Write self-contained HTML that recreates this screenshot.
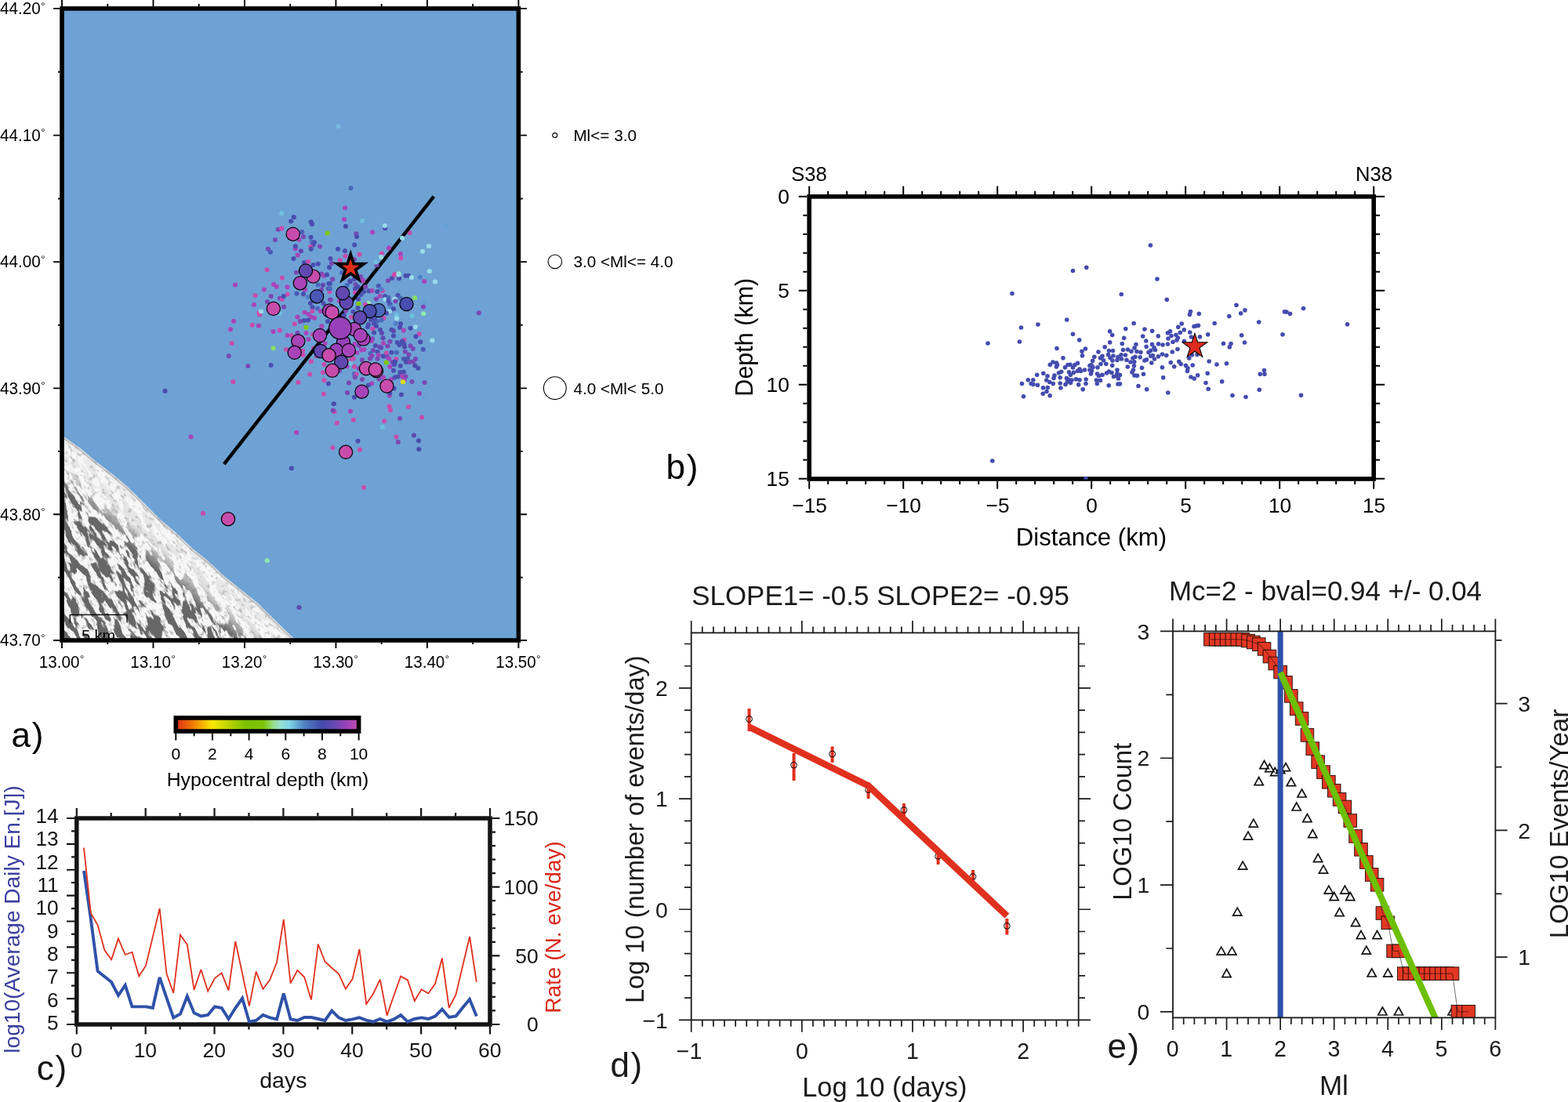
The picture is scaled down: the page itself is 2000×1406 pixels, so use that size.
<!DOCTYPE html>
<html lang="en"><head><meta charset="utf-8"><title>Seismic sequence figure</title>
<style>
html,body{margin:0;padding:0;background:#fff;}
body{width:2000px;height:1406px;overflow:hidden;}
svg{display:block;font-family:"Liberation Sans", "DejaVu Sans", sans-serif;}
</style></head><body>
<svg width="2000" height="1406" viewBox="0 0 2000 1406">
<rect width="2000" height="1406" fill="#fff"/>
<g id="panel-a">
<clipPath id="clipa"><rect x="79.0" y="10.9" width="582.40" height="806.10"/></clipPath>
<rect x="79.0" y="10.9" width="582.40" height="806.10" fill="#6ea2d4"/>
<defs>
<filter id="relief" x="0" y="0" width="100%" height="100%" filterUnits="objectBoundingBox" color-interpolation-filters="sRGB">
<feTurbulence type="fractalNoise" baseFrequency="0.04 0.12" numOctaves="4" seed="7" result="n"/>
<feColorMatrix in="n" type="matrix" values="0 0 0 0 0.40  0 0 0 0 0.40  0 0 0 0 0.40  12 0 0 0 -5.7"/>
</filter>
<filter id="speck" x="0" y="0" width="100%" height="100%" filterUnits="objectBoundingBox" color-interpolation-filters="sRGB">
<feTurbulence type="fractalNoise" baseFrequency="0.16 0.3" numOctaves="2" seed="4" result="n"/>
<feColorMatrix in="n" type="matrix" values="0 0 0 0 0.62  0 0 0 0 0.62  0 0 0 0 0.62  5 0 0 0 -2.7"/>
</filter>
<linearGradient id="fade" gradientUnits="userSpaceOnUse" x1="228" y1="677" x2="160" y2="755">
<stop offset="0" stop-color="#fff" stop-opacity="0.05"/><stop offset="0.3" stop-color="#fff" stop-opacity="0.14"/><stop offset="0.55" stop-color="#fff" stop-opacity="1"/><stop offset="1" stop-color="#fff" stop-opacity="1"/>
</linearGradient>
<mask id="landmask" maskUnits="userSpaceOnUse" x="0" y="500" width="500" height="400"><rect x="0" y="500" width="500" height="400" fill="url(#fade)"/></mask>
</defs>
<g clip-path="url(#clipa)">
<polygon points="79,555.5 81.7,557.5 101.3,571 121.9,588.5 142.5,604 163.2,621.5 183.8,642.1 204.4,662.8 225,680.3 245.7,699.9 266.3,716.4 286.9,736 307.6,752.5 328.2,769 348.8,789.6 373.6,813.4 378,818 79,818" fill="#f7f7f7"/>
<clipPath id="clipland"><polygon points="79,555.5 81.7,557.5 101.3,571 121.9,588.5 142.5,604 163.2,621.5 183.8,642.1 204.4,662.8 225,680.3 245.7,699.9 266.3,716.4 286.9,736 307.6,752.5 328.2,769 348.8,789.6 373.6,813.4 378,818 79,818"/></clipPath>
<g clip-path="url(#clipland)">
<g transform="rotate(52 200 700)"><rect x="-150" y="350" width="700" height="700" fill="#000" filter="url(#speck)" opacity="0.55"/></g>
<g mask="url(#landmask)"><g transform="rotate(60 200 700)"><rect x="-150" y="350" width="700" height="700" fill="#000" filter="url(#relief)"/></g></g>
</g>
<polyline points="79,555.5 81.7,557.5 101.3,571 121.9,588.5 142.5,604 163.2,621.5 183.8,642.1 204.4,662.8 225,680.3 245.7,699.9 266.3,716.4 286.9,736 307.6,752.5 328.2,769 348.8,789.6 373.6,813.4 378,818" fill="none" stroke="#9a9a9a" stroke-width="2.2" stroke-opacity="0.55" transform="translate(-1.2,1.4)"/>
</g>
<g clip-path="url(#clipa)">
<circle cx="447.5" cy="240" r="3.05" fill="#4a68bc"/><circle cx="440" cy="265.2" r="3.05" fill="#a844b8"/><circle cx="359.2" cy="272.2" r="3.05" fill="#70c0e0"/><circle cx="374.8" cy="277" r="3.05" fill="#4a4db0"/><circle cx="371.2" cy="282.2" r="3.05" fill="#4a4db0"/><circle cx="439" cy="280" r="3.05" fill="#a844b8"/><circle cx="462" cy="281.7" r="3.05" fill="#70c0e0"/><circle cx="396.8" cy="283.2" r="3.05" fill="#4a4db0"/><circle cx="398" cy="286" r="3.05" fill="#4a4db0"/><circle cx="441" cy="288.7" r="3.05" fill="#4a4db0"/><circle cx="354.8" cy="292.8" r="3.05" fill="#7a48b4"/><circle cx="359.2" cy="291.4" r="3.05" fill="#c84cac"/><circle cx="385.2" cy="296" r="3.05" fill="#4a58b4"/><circle cx="417.8" cy="297.5" r="3.05" fill="#80c800"/><circle cx="454.5" cy="298.3" r="3.05" fill="#7a48b4"/><circle cx="455" cy="302" r="3.05" fill="#4a4db0"/><circle cx="475" cy="296.2" r="3.05" fill="#a844b8"/><circle cx="387" cy="302" r="3.05" fill="#7a48b4"/><circle cx="396.5" cy="302.7" r="3.05" fill="#4a4db0"/><circle cx="381.5" cy="305.8" r="3.05" fill="#a844b8"/><circle cx="351" cy="306" r="3.05" fill="#7a48b4"/><circle cx="398" cy="308.8" r="3.05" fill="#4a68bc"/><circle cx="401" cy="309.3" r="3.05" fill="#4a4db0"/><circle cx="399.5" cy="312.5" r="3.05" fill="#4a4db0"/><circle cx="452.2" cy="312.5" r="3.05" fill="#4a4db0"/><circle cx="376.8" cy="317.2" r="3.05" fill="#a844b8"/><circle cx="376.8" cy="314.2" r="3.05" fill="#4a4db0"/><circle cx="408" cy="314.5" r="3.05" fill="#7a48b4"/><circle cx="396.2" cy="315" r="3.05" fill="#c84cac"/><circle cx="396.8" cy="317.8" r="3.05" fill="#4a4db0"/><circle cx="402.5" cy="319.7" r="3.05" fill="#66a0d4"/><circle cx="342" cy="317.8" r="3.05" fill="#7a48b4"/><circle cx="345" cy="321.8" r="3.05" fill="#4a58b4"/><circle cx="384" cy="320.3" r="3.05" fill="#6048b0"/><circle cx="431" cy="317.8" r="3.05" fill="#4a4db0"/><circle cx="440" cy="320" r="3.05" fill="#4a4db0"/><circle cx="379.8" cy="325.5" r="3.05" fill="#a844b8"/><circle cx="458.5" cy="324.7" r="3.05" fill="#c84cac"/><circle cx="440.5" cy="326.8" r="3.05" fill="#c84cac"/><circle cx="374.5" cy="330" r="3.05" fill="#4a4db0"/><circle cx="421.5" cy="330" r="3.05" fill="#4a4db0"/><circle cx="433.8" cy="332.2" r="3.05" fill="#c84cac"/><circle cx="388" cy="335" r="3.05" fill="#4a4db0"/><circle cx="393.2" cy="333.7" r="3.05" fill="#c84cac"/><circle cx="423" cy="336" r="3.05" fill="#7a48b4"/><circle cx="405.8" cy="336.8" r="3.05" fill="#4a4db0"/><circle cx="399.5" cy="338" r="3.05" fill="#4a4db0"/><circle cx="420" cy="341.3" r="3.05" fill="#4a4db0"/><circle cx="340.5" cy="344.3" r="3.05" fill="#c84cac"/><circle cx="378" cy="347.5" r="3.05" fill="#7a48b4"/><circle cx="410" cy="349.5" r="3.05" fill="#7a48b4"/><circle cx="413" cy="351.8" r="3.05" fill="#a844b8"/><circle cx="417" cy="350.5" r="3.05" fill="#4a4db0"/><circle cx="360" cy="354.5" r="3.05" fill="#c84cac"/><circle cx="424.3" cy="356.2" r="3.05" fill="#7a48b4"/><circle cx="452" cy="331" r="3.05" fill="#7a48b4"/><circle cx="436" cy="348" r="3.05" fill="#4a68bc"/><circle cx="479.5" cy="334.5" r="3.05" fill="#70c0e0"/><circle cx="480.5" cy="338.2" r="3.05" fill="#7a48b4"/><circle cx="460" cy="353" r="3.05" fill="#7a48b4"/><circle cx="463" cy="357.5" r="3.05" fill="#a844b8"/><circle cx="446.5" cy="358.5" r="3.05" fill="#4a4db0"/><circle cx="452" cy="356" r="3.05" fill="#4a4db0"/><circle cx="491.2" cy="291.2" r="3.05" fill="#4a4db0"/><circle cx="490.8" cy="288" r="3.05" fill="#98dce8"/><circle cx="522.5" cy="297" r="3.05" fill="#c84cac"/><circle cx="513" cy="303.8" r="3.05" fill="#98dce8"/><circle cx="568.7" cy="288" r="3.05" fill="#66a0d4"/><circle cx="497.5" cy="319" r="3.05" fill="#70c0e0"/><circle cx="496.2" cy="316.5" r="3.05" fill="#a844b8"/><circle cx="547" cy="314" r="3.05" fill="#98dce8"/><circle cx="539" cy="320.8" r="3.05" fill="#98dce8"/><circle cx="486.8" cy="323.5" r="3.05" fill="#c84cac"/><circle cx="486.2" cy="328" r="3.05" fill="#98dce8"/><circle cx="510.8" cy="324" r="3.05" fill="#a844b8"/><circle cx="511.2" cy="329.3" r="3.05" fill="#c84cac"/><circle cx="547.8" cy="346" r="3.05" fill="#98dce8"/><circle cx="503.5" cy="349.7" r="3.05" fill="#c84cac"/><circle cx="508.5" cy="349.3" r="3.05" fill="#90e8b0"/><circle cx="517.5" cy="351.7" r="3.05" fill="#4a4db0"/><circle cx="521.2" cy="351.7" r="3.05" fill="#4a4db0"/><circle cx="525" cy="354" r="3.05" fill="#98dce8"/><circle cx="500" cy="355" r="3.05" fill="#4a4db0"/><circle cx="509" cy="355.2" r="3.05" fill="#4a4db0"/><circle cx="536" cy="353.7" r="3.05" fill="#5080c8"/><circle cx="495" cy="358" r="3.05" fill="#7a48b4"/><circle cx="541.2" cy="359" r="3.05" fill="#a844b8"/><circle cx="555" cy="359.5" r="3.05" fill="#98dce8"/><circle cx="300" cy="363.5" r="3.05" fill="#a844b8"/><circle cx="349" cy="362.8" r="3.05" fill="#a844b8"/><circle cx="352.8" cy="365.8" r="3.05" fill="#a844b8"/><circle cx="337" cy="369.5" r="3.05" fill="#a844b8"/><circle cx="366.5" cy="366.3" r="3.05" fill="#a844b8"/><circle cx="325.5" cy="377" r="3.05" fill="#c84cac"/><circle cx="345.7" cy="378" r="3.05" fill="#7a48b4"/><circle cx="366.5" cy="375.5" r="3.05" fill="#c84cac"/><circle cx="357" cy="380.5" r="3.05" fill="#7a48b4"/><circle cx="359.8" cy="381.8" r="3.05" fill="#c84cac"/><circle cx="361.8" cy="378" r="3.05" fill="#4a4db0"/><circle cx="341" cy="385" r="3.05" fill="#7a48b4"/><circle cx="324" cy="388.7" r="3.05" fill="#a844b8"/><circle cx="362" cy="391.5" r="3.05" fill="#7a48b4"/><circle cx="330.5" cy="399" r="3.05" fill="#c84cac"/><circle cx="331.2" cy="401.5" r="3.05" fill="#c84cac"/><circle cx="333" cy="397.2" r="3.05" fill="#98dce8"/><circle cx="357" cy="400" r="3.05" fill="#70c0e0"/><circle cx="298" cy="409.7" r="3.05" fill="#a844b8"/><circle cx="321.8" cy="414.8" r="3.05" fill="#c84cac"/><circle cx="330" cy="415.8" r="3.05" fill="#a844b8"/><circle cx="294" cy="420.2" r="3.05" fill="#a844b8"/><circle cx="348.5" cy="423" r="3.05" fill="#a844b8"/><circle cx="356.8" cy="421.5" r="3.05" fill="#c84cac"/><circle cx="295.7" cy="438" r="3.05" fill="#c84cac"/><circle cx="348.5" cy="444.2" r="3.05" fill="#88e060"/><circle cx="291.8" cy="454.3" r="3.05" fill="#7a48b4"/><circle cx="316.3" cy="467" r="3.05" fill="#7a48b4"/><circle cx="345.7" cy="466" r="3.05" fill="#4a4db0"/><circle cx="297.3" cy="487" r="3.05" fill="#c84cac"/><circle cx="378.5" cy="374.5" r="3.05" fill="#4a58b4"/><circle cx="387" cy="375" r="3.05" fill="#4a4db0"/><circle cx="392.5" cy="379" r="3.05" fill="#5080c8"/><circle cx="405.5" cy="363.5" r="3.05" fill="#4a68bc"/><circle cx="412" cy="363.8" r="3.05" fill="#6048b0"/><circle cx="419.5" cy="361.8" r="3.05" fill="#4a4db0"/><circle cx="419" cy="368.3" r="3.05" fill="#4a58b4"/><circle cx="420.5" cy="372.2" r="3.05" fill="#c84cac"/><circle cx="389" cy="369.5" r="3.05" fill="#a844b8"/><circle cx="410" cy="369.5" r="3.05" fill="#7a48b4"/><circle cx="421" cy="382.5" r="3.05" fill="#6048b0"/><circle cx="396" cy="386.8" r="3.05" fill="#4a4db0"/><circle cx="412.5" cy="387" r="3.05" fill="#4a4db0"/><circle cx="398.5" cy="392" r="3.05" fill="#4a4db0"/><circle cx="405" cy="393.5" r="3.05" fill="#4a68bc"/><circle cx="388.5" cy="398.5" r="3.05" fill="#a844b8"/><circle cx="398.5" cy="397" r="3.05" fill="#c84cac"/><circle cx="393.5" cy="401" r="3.05" fill="#a844b8"/><circle cx="379.5" cy="404.5" r="3.05" fill="#a844b8"/><circle cx="397" cy="404.5" r="3.05" fill="#a844b8"/><circle cx="401.2" cy="405.7" r="3.05" fill="#a844b8"/><circle cx="387.8" cy="409" r="3.05" fill="#4a4db0"/><circle cx="393" cy="408.5" r="3.05" fill="#4a4db0"/><circle cx="383" cy="410" r="3.05" fill="#7a48b4"/><circle cx="375.8" cy="413.3" r="3.05" fill="#c84cac"/><circle cx="390.5" cy="417.7" r="3.05" fill="#80c800"/><circle cx="410.3" cy="416.2" r="3.05" fill="#a844b8"/><circle cx="418" cy="410" r="3.05" fill="#4a4db0"/><circle cx="379.5" cy="424.8" r="3.05" fill="#7a48b4"/><circle cx="390.5" cy="425" r="3.05" fill="#a844b8"/><circle cx="366.8" cy="428" r="3.05" fill="#a844b8"/><circle cx="371.7" cy="428" r="3.05" fill="#c84cac"/><circle cx="393.5" cy="433" r="3.05" fill="#a844b8"/><circle cx="399" cy="426.5" r="3.05" fill="#c84cac"/><circle cx="365" cy="446" r="3.05" fill="#c84cac"/><circle cx="386" cy="447.5" r="3.05" fill="#c84cac"/><circle cx="386.5" cy="453" r="3.05" fill="#c84cac"/><circle cx="414.5" cy="438" r="3.05" fill="#a844b8"/><circle cx="397" cy="461.2" r="3.05" fill="#c84cac"/><circle cx="413.5" cy="465" r="3.05" fill="#c84cac"/><circle cx="412" cy="475.2" r="3.05" fill="#c84cac"/><circle cx="395.2" cy="477.5" r="3.05" fill="#c84cac"/><circle cx="413.5" cy="485.2" r="3.05" fill="#c84cac"/><circle cx="380.5" cy="487.8" r="3.05" fill="#c84cac"/><circle cx="409" cy="397" r="3.05" fill="#a844b8"/><circle cx="419" cy="489.5" r="3.05" fill="#4a4db0"/><circle cx="400" cy="444.5" r="3.05" fill="#c84cac"/><circle cx="404" cy="454" r="3.05" fill="#a844b8"/><circle cx="433" cy="473" r="3.05" fill="#7a48b4"/><circle cx="503" cy="351" r="3.05" fill="#c84cac"/><circle cx="508.5" cy="350.5" r="3.05" fill="#98dce8"/><circle cx="446.5" cy="359.5" r="3.05" fill="#4a4db0"/><circle cx="463" cy="358.5" r="3.05" fill="#a844b8"/><circle cx="453.5" cy="362.8" r="3.05" fill="#7a48b4"/><circle cx="442.5" cy="364" r="3.05" fill="#4a68bc"/><circle cx="456.5" cy="366" r="3.05" fill="#4a4db0"/><circle cx="453" cy="368.5" r="3.05" fill="#4a4db0"/><circle cx="466" cy="366" r="3.05" fill="#7a48b4"/><circle cx="453" cy="373.2" r="3.05" fill="#c84cac"/><circle cx="464" cy="372.2" r="3.05" fill="#4a4db0"/><circle cx="460.5" cy="376" r="3.05" fill="#4a58b4"/><circle cx="470.5" cy="371.2" r="3.05" fill="#4a4db0"/><circle cx="474.5" cy="371" r="3.05" fill="#a844b8"/><circle cx="482.8" cy="364.7" r="3.05" fill="#4a58b4"/><circle cx="487.8" cy="371" r="3.05" fill="#c84cac"/><circle cx="486" cy="369" r="3.05" fill="#5080c8"/><circle cx="481.2" cy="372" r="3.05" fill="#4a4db0"/><circle cx="484.5" cy="377.8" r="3.05" fill="#a844b8"/><circle cx="479.8" cy="381.5" r="3.05" fill="#7a48b4"/><circle cx="491" cy="378" r="3.05" fill="#4a4db0"/><circle cx="491.5" cy="382" r="3.05" fill="#98dce8"/><circle cx="495.5" cy="379.5" r="3.05" fill="#4a68bc"/><circle cx="495.5" cy="384" r="3.05" fill="#4a4db0"/><circle cx="509.5" cy="371.5" r="3.05" fill="#66a0d4"/><circle cx="507.5" cy="376.8" r="3.05" fill="#4a4db0"/><circle cx="503.5" cy="381.5" r="3.05" fill="#98dce8"/><circle cx="504.5" cy="384.2" r="3.05" fill="#7a48b4"/><circle cx="511" cy="380.5" r="3.05" fill="#4a68bc"/><circle cx="529.2" cy="380" r="3.05" fill="#88e060"/><circle cx="541.5" cy="385" r="3.05" fill="#66a0d4"/><circle cx="540" cy="391.5" r="3.05" fill="#7a48b4"/><circle cx="540.2" cy="400.3" r="3.05" fill="#90e8b0"/><circle cx="610.8" cy="399.3" r="3.05" fill="#7a48b4"/><circle cx="457" cy="381.5" r="3.05" fill="#4a4db0"/><circle cx="457.5" cy="387.5" r="3.05" fill="#80c800"/><circle cx="470" cy="386.8" r="3.05" fill="#90e8b0"/><circle cx="466" cy="388.5" r="3.05" fill="#c84cac"/><circle cx="456.5" cy="393" r="3.05" fill="#4a4db0"/><circle cx="497.5" cy="388.5" r="3.05" fill="#4a4db0"/><circle cx="498.5" cy="391.5" r="3.05" fill="#5080c8"/><circle cx="502" cy="394" r="3.05" fill="#4a4db0"/><circle cx="496.8" cy="397.2" r="3.05" fill="#98dce8"/><circle cx="493" cy="399.5" r="3.05" fill="#4a4db0"/><circle cx="450.5" cy="397.8" r="3.05" fill="#4a4db0"/><circle cx="441" cy="396.5" r="3.05" fill="#7a48b4"/><circle cx="506" cy="402" r="3.05" fill="#70c0e0"/><circle cx="506" cy="406.2" r="3.05" fill="#98dce8"/><circle cx="525.5" cy="403" r="3.05" fill="#70c0e0"/><circle cx="489.5" cy="406" r="3.05" fill="#c84cac"/><circle cx="486.5" cy="408.5" r="3.05" fill="#4a68bc"/><circle cx="481" cy="410" r="3.05" fill="#4a68bc"/><circle cx="473" cy="408" r="3.05" fill="#4a4db0"/><circle cx="478" cy="407" r="3.05" fill="#4a4db0"/><circle cx="448" cy="404.8" r="3.05" fill="#c84cac"/><circle cx="438.5" cy="402.5" r="3.05" fill="#4a4db0"/><circle cx="504.5" cy="412.8" r="3.05" fill="#5080c8"/><circle cx="511" cy="413" r="3.05" fill="#4a4db0"/><circle cx="510" cy="417.8" r="3.05" fill="#4a4db0"/><circle cx="523.5" cy="418.8" r="3.05" fill="#4a4db0"/><circle cx="530" cy="417.2" r="3.05" fill="#98dce8"/><circle cx="534.5" cy="420.3" r="3.05" fill="#66a0d4"/><circle cx="514.8" cy="421.5" r="3.05" fill="#a844b8"/><circle cx="504" cy="419" r="3.05" fill="#66a0d4"/><circle cx="499.5" cy="420.8" r="3.05" fill="#4a4db0"/><circle cx="502" cy="422.2" r="3.05" fill="#6048b0"/><circle cx="475.5" cy="419.5" r="3.05" fill="#c84cac"/><circle cx="470" cy="414" r="3.05" fill="#4a4db0"/><circle cx="469" cy="417" r="3.05" fill="#4a4db0"/><circle cx="477" cy="413" r="3.05" fill="#4a4db0"/><circle cx="480" cy="416" r="3.05" fill="#4a4db0"/><circle cx="485" cy="420.8" r="3.05" fill="#4a4db0"/><circle cx="477" cy="424.5" r="3.05" fill="#4a4db0"/><circle cx="487" cy="425" r="3.05" fill="#6048b0"/><circle cx="502" cy="428.5" r="3.05" fill="#4a4db0"/><circle cx="508" cy="429" r="3.05" fill="#66a0d4"/><circle cx="534.7" cy="426.2" r="3.05" fill="#c84cac"/><circle cx="530.5" cy="429.3" r="3.05" fill="#4a4db0"/><circle cx="488.5" cy="431.2" r="3.05" fill="#6048b0"/><circle cx="475" cy="432.2" r="3.05" fill="#7a48b4"/><circle cx="474" cy="435" r="3.05" fill="#a844b8"/><circle cx="497.5" cy="435.7" r="3.05" fill="#7a48b4"/><circle cx="489" cy="437.7" r="3.05" fill="#a844b8"/><circle cx="515.5" cy="433.8" r="3.05" fill="#c84cac"/><circle cx="513" cy="435.5" r="3.05" fill="#4a4db0"/><circle cx="506.8" cy="437" r="3.05" fill="#4a4db0"/><circle cx="509.5" cy="440" r="3.05" fill="#4a4db0"/><circle cx="515.5" cy="439" r="3.05" fill="#4a4db0"/><circle cx="516" cy="442.5" r="3.05" fill="#4a4db0"/><circle cx="536.2" cy="436.2" r="3.05" fill="#4a4db0"/><circle cx="551.3" cy="434.2" r="3.05" fill="#98dce8"/><circle cx="523.5" cy="441.2" r="3.05" fill="#7a48b4"/><circle cx="526.8" cy="445" r="3.05" fill="#7a48b4"/><circle cx="539.8" cy="445.8" r="3.05" fill="#4a58b4"/><circle cx="479" cy="441" r="3.05" fill="#4a4db0"/><circle cx="484" cy="442.5" r="3.05" fill="#7a48b4"/><circle cx="494.5" cy="441.5" r="3.05" fill="#7a48b4"/><circle cx="486" cy="443.5" r="3.05" fill="#6048b0"/><circle cx="461" cy="446.5" r="3.05" fill="#a844b8"/><circle cx="464.5" cy="446" r="3.05" fill="#a844b8"/><circle cx="455" cy="450" r="3.05" fill="#a844b8"/><circle cx="452.5" cy="439" r="3.05" fill="#a844b8"/><circle cx="458" cy="441" r="3.05" fill="#7a48b4"/><circle cx="476" cy="447" r="3.05" fill="#7a48b4"/><circle cx="481.5" cy="449" r="3.05" fill="#4a4db0"/><circle cx="472.5" cy="451" r="3.05" fill="#4a68bc"/><circle cx="492.8" cy="450.5" r="3.05" fill="#c84cac"/><circle cx="499.5" cy="449.7" r="3.05" fill="#4a4db0"/><circle cx="506" cy="449.7" r="3.05" fill="#4a68bc"/><circle cx="516.8" cy="448.8" r="3.05" fill="#7a48b4"/><circle cx="521.5" cy="452.5" r="3.05" fill="#7a48b4"/><circle cx="483" cy="453" r="3.05" fill="#a844b8"/><circle cx="474.5" cy="454" r="3.05" fill="#9840b8"/><circle cx="489" cy="454.5" r="3.05" fill="#4a4db0"/><circle cx="494" cy="455" r="3.05" fill="#7a48b4"/><circle cx="472" cy="457.5" r="3.05" fill="#7a48b4"/><circle cx="481.5" cy="457.8" r="3.05" fill="#7a48b4"/><circle cx="496" cy="457.5" r="3.05" fill="#a844b8"/><circle cx="505.3" cy="458" r="3.05" fill="#c84cac"/><circle cx="515" cy="458" r="3.05" fill="#4a58b4"/><circle cx="520" cy="457.5" r="3.05" fill="#4a58b4"/><circle cx="530" cy="458" r="3.05" fill="#7a48b4"/><circle cx="462" cy="459.2" r="3.05" fill="#7a48b4"/><circle cx="450.8" cy="457.5" r="3.05" fill="#c84cac"/><circle cx="446.5" cy="460" r="3.05" fill="#c84cac"/><circle cx="447" cy="463.5" r="3.05" fill="#70c0e0"/><circle cx="492.8" cy="462.5" r="3.05" fill="#80c800"/><circle cx="500.5" cy="462" r="3.05" fill="#7a48b4"/><circle cx="504" cy="461.5" r="3.05" fill="#4a4db0"/><circle cx="503" cy="465" r="3.05" fill="#4a4db0"/><circle cx="518" cy="462" r="3.05" fill="#4a4db0"/><circle cx="522.5" cy="462" r="3.05" fill="#7a48b4"/><circle cx="527" cy="461.5" r="3.05" fill="#7a48b4"/><circle cx="497.5" cy="468" r="3.05" fill="#a844b8"/><circle cx="510.8" cy="466.8" r="3.05" fill="#4a4db0"/><circle cx="529.3" cy="466.5" r="3.05" fill="#4a4db0"/><circle cx="533.5" cy="469.8" r="3.05" fill="#4a4db0"/><circle cx="452" cy="467.8" r="3.05" fill="#c84cac"/><circle cx="442.5" cy="467.5" r="3.05" fill="#a844b8"/><circle cx="458" cy="470" r="3.05" fill="#7a48b4"/><circle cx="502" cy="472.8" r="3.05" fill="#4a4db0"/><circle cx="510.5" cy="475" r="3.05" fill="#4a4db0"/><circle cx="515" cy="474.5" r="3.05" fill="#4a4db0"/><circle cx="452" cy="477" r="3.05" fill="#4a68bc"/><circle cx="454.5" cy="477.5" r="3.05" fill="#c84cac"/><circle cx="452.8" cy="481.2" r="3.05" fill="#7a48b4"/><circle cx="462" cy="484" r="3.05" fill="#7a48b4"/><circle cx="445" cy="488.5" r="3.05" fill="#7a48b4"/><circle cx="489" cy="481.5" r="3.05" fill="#a844b8"/><circle cx="483.5" cy="483.5" r="3.05" fill="#7a48b4"/><circle cx="499" cy="484" r="3.05" fill="#a844b8"/><circle cx="503.5" cy="481.5" r="3.05" fill="#4a4db0"/><circle cx="507.5" cy="480.5" r="3.05" fill="#4a4db0"/><circle cx="513" cy="480" r="3.05" fill="#a844b8"/><circle cx="517.5" cy="480.5" r="3.05" fill="#7a48b4"/><circle cx="515.5" cy="485" r="3.05" fill="#a844b8"/><circle cx="514" cy="487.2" r="3.05" fill="#e0e000"/><circle cx="525.5" cy="487" r="3.05" fill="#7a48b4"/><circle cx="541.5" cy="488" r="3.05" fill="#7a48b4"/><circle cx="474" cy="489.5" r="3.05" fill="#a844b8"/><circle cx="470" cy="491.5" r="3.05" fill="#4a4db0"/><circle cx="421" cy="361.8" r="3.05" fill="#4a4db0"/><circle cx="421" cy="368.5" r="3.05" fill="#4a68bc"/><circle cx="421.8" cy="382.5" r="3.05" fill="#7a48b4"/><circle cx="433" cy="384" r="3.05" fill="#a844b8"/><circle cx="243.5" cy="557.2" r="3.05" fill="#a844b8"/><circle cx="412.8" cy="502.8" r="3.05" fill="#c84cac"/><circle cx="425.8" cy="515.3" r="3.05" fill="#4a4db0"/><circle cx="426.5" cy="525.2" r="3.05" fill="#c84cac"/><circle cx="424.8" cy="523.8" r="3.05" fill="#7a48b4"/><circle cx="429.8" cy="539.7" r="3.05" fill="#c84cac"/><circle cx="378.2" cy="551.7" r="3.05" fill="#a844b8"/><circle cx="424.3" cy="571.3" r="3.05" fill="#c84cac"/><circle cx="371.8" cy="597.5" r="3.05" fill="#4a4db0"/><circle cx="443" cy="501" r="3.05" fill="#7a48b4"/><circle cx="452" cy="506.8" r="3.05" fill="#4a4db0"/><circle cx="447" cy="524.8" r="3.05" fill="#a844b8"/><circle cx="450.8" cy="535.8" r="3.05" fill="#c84cac"/><circle cx="496.8" cy="504.8" r="3.05" fill="#a844b8"/><circle cx="497.2" cy="501.8" r="3.05" fill="#4a4db0"/><circle cx="502.5" cy="495.8" r="3.05" fill="#4a4db0"/><circle cx="512" cy="503.5" r="3.05" fill="#4a4db0"/><circle cx="535" cy="502" r="3.05" fill="#9840b8"/><circle cx="540.3" cy="508.7" r="3.05" fill="#66a0d4"/><circle cx="496.5" cy="518.5" r="3.05" fill="#c84cac"/><circle cx="498" cy="523.2" r="3.05" fill="#c84cac"/><circle cx="521" cy="519" r="3.05" fill="#c84cac"/><circle cx="538" cy="532.5" r="3.05" fill="#c84cac"/><circle cx="510" cy="534" r="3.05" fill="#7a48b4"/><circle cx="490.2" cy="537.3" r="3.05" fill="#c84cac"/><circle cx="487.8" cy="545" r="3.05" fill="#70c0e0"/><circle cx="505.5" cy="557.5" r="3.05" fill="#c84cac"/><circle cx="507.8" cy="564" r="3.05" fill="#7a48b4"/><circle cx="528" cy="555.5" r="3.05" fill="#6048b0"/><circle cx="534" cy="562.2" r="3.05" fill="#4a4db0"/><circle cx="534.3" cy="573.3" r="3.05" fill="#4a4db0"/><circle cx="456.5" cy="562.7" r="3.05" fill="#4a4db0"/><circle cx="459" cy="573.8" r="3.05" fill="#c84cac"/><circle cx="464" cy="622" r="3.05" fill="#c84cac"/><circle cx="431.5" cy="161.2" r="3.05" fill="#78b8e0"/><circle cx="210.6" cy="498.9" r="3.05" fill="#4a4db0"/><circle cx="259" cy="655" r="3.05" fill="#c84cac"/><circle cx="340.8" cy="715.2" r="3.05" fill="#90e8b0"/><circle cx="381.4" cy="775" r="3.05" fill="#6048b0"/>
</g>
<line x1="553.3" y1="250.6" x2="285.8" y2="592.2" stroke="#000" stroke-width="4.4"/>
<circle cx="441" cy="396.5" r="3.05" fill="#7a48b4"/><circle cx="438.5" cy="402.5" r="3.05" fill="#4a4db0"/><circle cx="463" cy="358.5" r="3.05" fill="#a844b8"/><circle cx="466" cy="366" r="3.05" fill="#7a48b4"/><circle cx="513" cy="303.8" r="3.05" fill="#98dce8"/><circle cx="496.2" cy="316.5" r="3.05" fill="#a844b8"/><circle cx="480.8" cy="338.2" r="3.05" fill="#7a48b4"/><circle cx="486.2" cy="328" r="3.05" fill="#98dce8"/><circle cx="479.5" cy="334.5" r="3.05" fill="#70c0e0"/>
<g stroke="#000" stroke-width="1.2">
<circle cx="373.7" cy="298.7" r="8.6" fill="#c84cac"/>
<circle cx="399.5" cy="352.6" r="8.6" fill="#c84cac"/>
<circle cx="390" cy="345.5" r="8.6" fill="#6048b0"/>
<circle cx="382.8" cy="361.2" r="8.6" fill="#a844b8"/>
<circle cx="348.8" cy="393.8" r="8.6" fill="#c84cac"/>
<circle cx="404.2" cy="378.2" r="8.6" fill="#4a58b4"/>
<circle cx="441.8" cy="386" r="8.6" fill="#6048b0"/>
<circle cx="437.2" cy="374" r="8.6" fill="#6048b0"/>
<circle cx="420" cy="396.5" r="8.6" fill="#a844b8"/>
<circle cx="423.6" cy="398.5" r="8.6" fill="#c84cac"/>
<circle cx="483" cy="396" r="8.6" fill="#4a68bc"/>
<circle cx="471.5" cy="397" r="8.6" fill="#4a4db0"/>
<circle cx="459.2" cy="405.3" r="8.6" fill="#6048b0"/>
<circle cx="518.5" cy="388" r="8.6" fill="#4a4db0"/>
<circle cx="452" cy="420" r="8.6" fill="#a844b8"/>
<circle cx="463.5" cy="432.5" r="8.6" fill="#a844b8"/>
<circle cx="459.8" cy="427.8" r="8.6" fill="#a844b8"/>
<circle cx="438" cy="436.5" r="8.6" fill="#9840b8"/>
<circle cx="433.9" cy="418.5" r="14.2" fill="#9840b8"/>
<circle cx="408" cy="428" r="8.6" fill="#a844b8"/>
<circle cx="380.3" cy="435.3" r="8.6" fill="#a844b8"/>
<circle cx="375.7" cy="449.8" r="8.6" fill="#a844b8"/>
<circle cx="409" cy="448" r="8.6" fill="#6048b0"/>
<circle cx="429" cy="446.8" r="8.6" fill="#9840b8"/>
<circle cx="419.5" cy="453.3" r="8.6" fill="#c84cac"/>
<circle cx="444.8" cy="447" r="8.6" fill="#a844b8"/>
<circle cx="435.3" cy="462" r="8.6" fill="#6048b0"/>
<circle cx="423.8" cy="472.8" r="8.6" fill="#c84cac"/>
<circle cx="467" cy="470" r="8.6" fill="#c84cac"/>
<circle cx="480" cy="473" r="8.6" fill="#c84cac"/>
<circle cx="478.8" cy="471.5" r="8.6" fill="#c84cac"/>
<circle cx="461.5" cy="499.7" r="8.6" fill="#a844b8"/>
<circle cx="493.4" cy="492.6" r="8.6" fill="#c84cac"/>
<circle cx="441.1" cy="576.8" r="8.6" fill="#c84cac"/>
<circle cx="291" cy="662.2" r="8.6" fill="#c84cac"/>
</g>
<polygon points="447.20,324.20 451.22,336.57 464.22,336.57 453.70,344.21 457.72,356.58 447.20,348.94 436.68,356.58 440.70,344.21 430.18,336.57 443.18,336.57" fill="#e02c18" stroke="#000" stroke-width="3.7" stroke-linejoin="miter"/>
<path d="M89.3 794.5V784.4H162V794.5" fill="none" stroke="#000" stroke-width="1.3"/>
<text x="125.60" y="818.20" font-size="20" text-anchor="middle" fill="#000" >5 km</text>
<rect x="79.0" y="10.9" width="582.40" height="806.10" fill="none" stroke="#000" stroke-width="5.6"/>
<path d="M79.00 8.10L79.00 0.00M79.00 819.80L79.00 827.00M76.20 10.90L68.00 10.90M664.20 10.90L672.00 10.90M137.24 8.10L137.24 5.00M137.24 819.80L137.24 822.00M76.20 91.82L74.00 91.82M664.20 91.82L666.70 91.82M195.48 8.10L195.48 0.00M195.48 819.80L195.48 827.00M76.20 172.66L68.00 172.66M664.20 172.66L672.00 172.66M253.72 8.10L253.72 5.00M253.72 819.80L253.72 822.00M76.20 253.44L74.00 253.44M664.20 253.44L666.70 253.44M311.96 8.10L311.96 0.00M311.96 819.80L311.96 827.00M76.20 334.15L68.00 334.15M664.20 334.15L672.00 334.15M370.20 8.10L370.20 5.00M370.20 819.80L370.20 822.00M76.20 414.80L74.00 414.80M664.20 414.80L666.70 414.80M428.44 8.10L428.44 0.00M428.44 819.80L428.44 827.00M76.20 495.37L68.00 495.37M664.20 495.37L672.00 495.37M486.68 8.10L486.68 5.00M486.68 819.80L486.68 822.00M76.20 575.88L74.00 575.88M664.20 575.88L666.70 575.88M544.92 8.10L544.92 0.00M544.92 819.80L544.92 827.00M76.20 656.32L68.00 656.32M664.20 656.32L672.00 656.32M603.16 8.10L603.16 5.00M603.16 819.80L603.16 822.00M76.20 736.69L74.00 736.69M664.20 736.69L666.70 736.69M661.40 8.10L661.40 0.00M661.40 819.80L661.40 827.00M76.20 817.00L68.00 817.00M664.20 817.00L672.00 817.00" stroke="#000" stroke-width="1.9" fill="none"/>
<text transform="translate(78.50 851.70) scale(1 1.05)" font-size="20.6" text-anchor="middle" fill="#000" >13.00<tspan font-size="13" dx="0.6" dy="-6.1">°</tspan></text>
<text transform="translate(57.50 18.10) scale(1 1.05)" font-size="20.7" text-anchor="end" fill="#000" >44.20<tspan font-size="13" dx="0.6" dy="-6.1">°</tspan></text>
<text transform="translate(194.98 851.70) scale(1 1.05)" font-size="20.6" text-anchor="middle" fill="#000" >13.10<tspan font-size="13" dx="0.6" dy="-6.1">°</tspan></text>
<text transform="translate(57.50 179.86) scale(1 1.05)" font-size="20.7" text-anchor="end" fill="#000" >44.10<tspan font-size="13" dx="0.6" dy="-6.1">°</tspan></text>
<text transform="translate(311.46 851.70) scale(1 1.05)" font-size="20.6" text-anchor="middle" fill="#000" >13.20<tspan font-size="13" dx="0.6" dy="-6.1">°</tspan></text>
<text transform="translate(57.50 341.35) scale(1 1.05)" font-size="20.7" text-anchor="end" fill="#000" >44.00<tspan font-size="13" dx="0.6" dy="-6.1">°</tspan></text>
<text transform="translate(427.94 851.70) scale(1 1.05)" font-size="20.6" text-anchor="middle" fill="#000" >13.30<tspan font-size="13" dx="0.6" dy="-6.1">°</tspan></text>
<text transform="translate(57.50 502.57) scale(1 1.05)" font-size="20.7" text-anchor="end" fill="#000" >43.90<tspan font-size="13" dx="0.6" dy="-6.1">°</tspan></text>
<text transform="translate(544.42 851.70) scale(1 1.05)" font-size="20.6" text-anchor="middle" fill="#000" >13.40<tspan font-size="13" dx="0.6" dy="-6.1">°</tspan></text>
<text transform="translate(57.50 663.52) scale(1 1.05)" font-size="20.7" text-anchor="end" fill="#000" >43.80<tspan font-size="13" dx="0.6" dy="-6.1">°</tspan></text>
<text transform="translate(660.90 851.70) scale(1 1.05)" font-size="20.6" text-anchor="middle" fill="#000" >13.50<tspan font-size="13" dx="0.6" dy="-6.1">°</tspan></text>
<text transform="translate(57.50 824.20) scale(1 1.05)" font-size="20.7" text-anchor="end" fill="#000" >43.70<tspan font-size="13" dx="0.6" dy="-6.1">°</tspan></text>
<circle cx="707.8" cy="172.6" r="3.0" fill="#fff" stroke="#000" stroke-width="1.1"/>
<circle cx="707.8" cy="333.8" r="8.8" fill="#fff" stroke="#000" stroke-width="1.1"/>
<circle cx="707.8" cy="495.2" r="14.4" fill="#fff" stroke="#000" stroke-width="1.1"/>
<text x="731.40" y="180.00" font-size="20.7" text-anchor="start" fill="#000" >Ml&lt;= 3.0</text>
<text x="731.40" y="341.20" font-size="20.7" text-anchor="start" fill="#000" >3.0 &lt;Ml&lt;= 4.0</text>
<text x="731.40" y="502.60" font-size="20.7" text-anchor="start" fill="#000" >4.0 &lt;Ml&lt; 5.0</text>
</g>
<g id="panel-b">
<rect x="1032.2" y="250.8" width="720.00" height="360.20" fill="#fff" stroke="#000" stroke-width="5.6"/>
<path d="M1032.20 248.00L1032.20 237.50M1032.20 613.80L1032.20 623.80M1056.20 248.00L1056.20 243.80M1056.20 613.80L1056.20 618.00M1080.20 248.00L1080.20 243.80M1080.20 613.80L1080.20 618.00M1104.20 248.00L1104.20 243.80M1104.20 613.80L1104.20 618.00M1128.20 248.00L1128.20 243.80M1128.20 613.80L1128.20 618.00M1152.20 248.00L1152.20 237.50M1152.20 613.80L1152.20 623.80M1176.20 248.00L1176.20 243.80M1176.20 613.80L1176.20 618.00M1200.20 248.00L1200.20 243.80M1200.20 613.80L1200.20 618.00M1224.20 248.00L1224.20 243.80M1224.20 613.80L1224.20 618.00M1248.20 248.00L1248.20 243.80M1248.20 613.80L1248.20 618.00M1272.20 248.00L1272.20 237.50M1272.20 613.80L1272.20 623.80M1296.20 248.00L1296.20 243.80M1296.20 613.80L1296.20 618.00M1320.20 248.00L1320.20 243.80M1320.20 613.80L1320.20 618.00M1344.20 248.00L1344.20 243.80M1344.20 613.80L1344.20 618.00M1368.20 248.00L1368.20 243.80M1368.20 613.80L1368.20 618.00M1392.20 248.00L1392.20 237.50M1392.20 613.80L1392.20 623.80M1416.20 248.00L1416.20 243.80M1416.20 613.80L1416.20 618.00M1440.20 248.00L1440.20 243.80M1440.20 613.80L1440.20 618.00M1464.20 248.00L1464.20 243.80M1464.20 613.80L1464.20 618.00M1488.20 248.00L1488.20 243.80M1488.20 613.80L1488.20 618.00M1512.20 248.00L1512.20 237.50M1512.20 613.80L1512.20 623.80M1536.20 248.00L1536.20 243.80M1536.20 613.80L1536.20 618.00M1560.20 248.00L1560.20 243.80M1560.20 613.80L1560.20 618.00M1584.20 248.00L1584.20 243.80M1584.20 613.80L1584.20 618.00M1608.20 248.00L1608.20 243.80M1608.20 613.80L1608.20 618.00M1632.20 248.00L1632.20 237.50M1632.20 613.80L1632.20 623.80M1656.20 248.00L1656.20 243.80M1656.20 613.80L1656.20 618.00M1680.20 248.00L1680.20 243.80M1680.20 613.80L1680.20 618.00M1704.20 248.00L1704.20 243.80M1704.20 613.80L1704.20 618.00M1728.20 248.00L1728.20 243.80M1728.20 613.80L1728.20 618.00M1752.20 248.00L1752.20 237.50M1752.20 613.80L1752.20 623.80M1029.40 250.80L1018.80 250.80M1755.00 250.80L1766.20 250.80M1029.40 274.80L1024.30 274.80M1755.00 274.80L1760.00 274.80M1029.40 298.80L1024.30 298.80M1755.00 298.80L1760.00 298.80M1029.40 322.80L1024.30 322.80M1755.00 322.80L1760.00 322.80M1029.40 346.80L1024.30 346.80M1755.00 346.80L1760.00 346.80M1029.40 370.80L1018.80 370.80M1755.00 370.80L1766.20 370.80M1029.40 394.80L1024.30 394.80M1755.00 394.80L1760.00 394.80M1029.40 418.80L1024.30 418.80M1755.00 418.80L1760.00 418.80M1029.40 442.80L1024.30 442.80M1755.00 442.80L1760.00 442.80M1029.40 466.80L1024.30 466.80M1755.00 466.80L1760.00 466.80M1029.40 490.80L1018.80 490.80M1755.00 490.80L1766.20 490.80M1029.40 514.80L1024.30 514.80M1755.00 514.80L1760.00 514.80M1029.40 538.80L1024.30 538.80M1755.00 538.80L1760.00 538.80M1029.40 562.80L1024.30 562.80M1755.00 562.80L1760.00 562.80M1029.40 586.80L1024.30 586.80M1755.00 586.80L1760.00 586.80M1029.40 610.80L1018.80 610.80M1755.00 610.80L1766.20 610.80" stroke="#000" stroke-width="2.0" fill="none"/>
<text x="1032.60" y="654.20" font-size="26.3" text-anchor="middle" fill="#000" >−15</text>
<text x="1152.60" y="654.20" font-size="26.3" text-anchor="middle" fill="#000" >−10</text>
<text x="1272.60" y="654.20" font-size="26.3" text-anchor="middle" fill="#000" >−5</text>
<text x="1392.60" y="654.20" font-size="26.3" text-anchor="middle" fill="#000" >0</text>
<text x="1512.60" y="654.20" font-size="26.3" text-anchor="middle" fill="#000" >5</text>
<text x="1632.60" y="654.20" font-size="26.3" text-anchor="middle" fill="#000" >10</text>
<text x="1752.60" y="654.20" font-size="26.3" text-anchor="middle" fill="#000" >15</text>
<text x="1006.80" y="260.10" font-size="26.3" text-anchor="end" fill="#000" >0</text>
<text x="1006.80" y="380.10" font-size="26.3" text-anchor="end" fill="#000" >5</text>
<text x="1006.80" y="500.10" font-size="26.3" text-anchor="end" fill="#000" >10</text>
<text x="1006.80" y="620.10" font-size="26.3" text-anchor="end" fill="#000" >15</text>
<text x="1032.00" y="231.40" font-size="25.6" text-anchor="middle" fill="#000" >S38</text>
<text x="1752.60" y="231.40" font-size="25.6" text-anchor="middle" fill="#000" >N38</text>
<text x="1392.00" y="696.00" font-size="31.2" text-anchor="middle" fill="#000" >Distance (km)</text>
<text x="960.30" y="430.20" font-size="30.5" text-anchor="middle" fill="#000" transform="rotate(-90 960.30 430.20)" >Depth (km)</text>
<text x="849.60" y="611.20" font-size="44" text-anchor="start" fill="#000" >b<tspan dx="1.6">)</tspan></text>
<clipPath id="clipb"><rect x="1032.2" y="250.8" width="720.00" height="363.00"/></clipPath>
<g fill="#444cae" clip-path="url(#clipb)"><circle cx="1385.8" cy="341.3" r="2.8"/><circle cx="1368.5" cy="345.5" r="2.8"/><circle cx="1291.0" cy="374.5" r="2.8"/><circle cx="1430.3" cy="375.5" r="2.8"/><circle cx="1360.8" cy="408.0" r="2.8"/><circle cx="1324.0" cy="414.0" r="2.8"/><circle cx="1302.5" cy="418.0" r="2.8"/><circle cx="1368.5" cy="426.2" r="2.8"/><circle cx="1376.7" cy="433.8" r="2.8"/><circle cx="1415.7" cy="422.8" r="2.8"/><circle cx="1418.7" cy="427.5" r="2.8"/><circle cx="1435.8" cy="419.5" r="2.8"/><circle cx="1433.7" cy="431.3" r="2.8"/><circle cx="1415.7" cy="436.8" r="2.8"/><circle cx="1431.3" cy="438.5" r="2.8"/><circle cx="1300.5" cy="436.0" r="2.8"/><circle cx="1260.0" cy="438.0" r="2.8"/><circle cx="1348.0" cy="444.5" r="2.8"/><circle cx="1384.5" cy="445.0" r="2.8"/><circle cx="1380.0" cy="448.2" r="2.8"/><circle cx="1409.2" cy="442.8" r="2.8"/><circle cx="1401.0" cy="449.0" r="2.8"/><circle cx="1414.5" cy="447.5" r="2.8"/><circle cx="1419.5" cy="447.5" r="2.8"/><circle cx="1432.5" cy="446.5" r="2.8"/><circle cx="1438.5" cy="446.0" r="2.8"/><circle cx="1380.5" cy="453.8" r="2.8"/><circle cx="1356.0" cy="456.7" r="2.8"/><circle cx="1395.8" cy="455.3" r="2.8"/><circle cx="1406.0" cy="454.3" r="2.8"/><circle cx="1403.5" cy="456.8" r="2.8"/><circle cx="1413.5" cy="452.5" r="2.8"/><circle cx="1420.0" cy="454.0" r="2.8"/><circle cx="1416.0" cy="456.5" r="2.8"/><circle cx="1426.0" cy="455.5" r="2.8"/><circle cx="1430.0" cy="452.8" r="2.8"/><circle cx="1435.5" cy="453.0" r="2.8"/><circle cx="1430.5" cy="458.0" r="2.8"/><circle cx="1425.0" cy="459.5" r="2.8"/><circle cx="1419.0" cy="460.0" r="2.8"/><circle cx="1407.5" cy="459.8" r="2.8"/><circle cx="1393.7" cy="460.2" r="2.8"/><circle cx="1437.0" cy="459.3" r="2.8"/><circle cx="1343.0" cy="462.0" r="2.8"/><circle cx="1347.5" cy="463.0" r="2.8"/><circle cx="1339.3" cy="465.2" r="2.8"/><circle cx="1348.5" cy="465.2" r="2.8"/><circle cx="1347.5" cy="468.0" r="2.8"/><circle cx="1374.5" cy="463.2" r="2.8"/><circle cx="1371.0" cy="465.5" r="2.8"/><circle cx="1362.0" cy="465.5" r="2.8"/><circle cx="1365.0" cy="465.3" r="2.8"/><circle cx="1358.5" cy="468.8" r="2.8"/><circle cx="1368.5" cy="469.0" r="2.8"/><circle cx="1392.0" cy="465.5" r="2.8"/><circle cx="1390.0" cy="466.5" r="2.8"/><circle cx="1394.0" cy="468.5" r="2.8"/><circle cx="1400.0" cy="468.8" r="2.8"/><circle cx="1404.0" cy="464.5" r="2.8"/><circle cx="1410.8" cy="464.3" r="2.8"/><circle cx="1418.7" cy="466.2" r="2.8"/><circle cx="1438.3" cy="468.0" r="2.8"/><circle cx="1377.0" cy="471.0" r="2.8"/><circle cx="1374.5" cy="473.2" r="2.8"/><circle cx="1378.5" cy="473.5" r="2.8"/><circle cx="1383.5" cy="472.0" r="2.8"/><circle cx="1390.0" cy="472.0" r="2.8"/><circle cx="1392.5" cy="473.2" r="2.8"/><circle cx="1425.0" cy="472.0" r="2.8"/><circle cx="1353.7" cy="474.3" r="2.8"/><circle cx="1350.5" cy="475.8" r="2.8"/><circle cx="1363.5" cy="474.7" r="2.8"/><circle cx="1369.5" cy="475.2" r="2.8"/><circle cx="1365.5" cy="478.3" r="2.8"/><circle cx="1391.5" cy="477.0" r="2.8"/><circle cx="1399.5" cy="477.0" r="2.8"/><circle cx="1401.5" cy="479.5" r="2.8"/><circle cx="1406.0" cy="478.3" r="2.8"/><circle cx="1411.5" cy="476.0" r="2.8"/><circle cx="1414.5" cy="474.0" r="2.8"/><circle cx="1418.0" cy="475.5" r="2.8"/><circle cx="1425.0" cy="476.5" r="2.8"/><circle cx="1428.5" cy="478.5" r="2.8"/><circle cx="1420.5" cy="480.5" r="2.8"/><circle cx="1424.0" cy="479.5" r="2.8"/><circle cx="1426.5" cy="483.0" r="2.8"/><circle cx="1330.8" cy="476.3" r="2.8"/><circle cx="1322.7" cy="478.3" r="2.8"/><circle cx="1336.0" cy="479.7" r="2.8"/><circle cx="1345.0" cy="479.0" r="2.8"/><circle cx="1344.0" cy="482.5" r="2.8"/><circle cx="1352.2" cy="481.7" r="2.8"/><circle cx="1360.5" cy="482.5" r="2.8"/><circle cx="1363.5" cy="484.5" r="2.8"/><circle cx="1367.0" cy="485.0" r="2.8"/><circle cx="1365.5" cy="488.5" r="2.8"/><circle cx="1361.5" cy="487.0" r="2.8"/><circle cx="1359.0" cy="490.5" r="2.8"/><circle cx="1372.5" cy="483.7" r="2.8"/><circle cx="1377.0" cy="484.8" r="2.8"/><circle cx="1385.2" cy="484.0" r="2.8"/><circle cx="1385.0" cy="489.5" r="2.8"/><circle cx="1375.7" cy="490.8" r="2.8"/><circle cx="1398.5" cy="485.0" r="2.8"/><circle cx="1403.5" cy="485.3" r="2.8"/><circle cx="1399.3" cy="489.5" r="2.8"/><circle cx="1414.3" cy="491.7" r="2.8"/><circle cx="1426.0" cy="490.0" r="2.8"/><circle cx="1428.5" cy="489.8" r="2.8"/><circle cx="1311.3" cy="484.7" r="2.8"/><circle cx="1317.8" cy="484.8" r="2.8"/><circle cx="1315.2" cy="489.5" r="2.8"/><circle cx="1318.0" cy="490.5" r="2.8"/><circle cx="1303.5" cy="489.5" r="2.8"/><circle cx="1323.5" cy="491.3" r="2.8"/><circle cx="1334.8" cy="485.0" r="2.8"/><circle cx="1338.8" cy="487.5" r="2.8"/><circle cx="1343.3" cy="489.5" r="2.8"/><circle cx="1352.2" cy="489.0" r="2.8"/><circle cx="1353.0" cy="495.0" r="2.8"/><circle cx="1330.5" cy="494.7" r="2.8"/><circle cx="1336.3" cy="494.5" r="2.8"/><circle cx="1335.0" cy="499.5" r="2.8"/><circle cx="1330.3" cy="502.2" r="2.8"/><circle cx="1339.2" cy="504.8" r="2.8"/><circle cx="1305.5" cy="505.8" r="2.8"/><circle cx="1381.2" cy="496.7" r="2.8"/><circle cx="1467.5" cy="313.0" r="2.8"/><circle cx="1476.0" cy="356.0" r="2.8"/><circle cx="1488.3" cy="382.3" r="2.8"/><circle cx="1577.0" cy="389.3" r="2.8"/><circle cx="1588.0" cy="395.7" r="2.8"/><circle cx="1582.7" cy="399.7" r="2.8"/><circle cx="1518.5" cy="397.5" r="2.8"/><circle cx="1517.5" cy="401.3" r="2.8"/><circle cx="1529.3" cy="400.2" r="2.8"/><circle cx="1567.8" cy="403.5" r="2.8"/><circle cx="1446.2" cy="412.5" r="2.8"/><circle cx="1507.2" cy="413.0" r="2.8"/><circle cx="1549.2" cy="412.5" r="2.8"/><circle cx="1605.7" cy="411.0" r="2.8"/><circle cx="1523.0" cy="416.5" r="2.8"/><circle cx="1526.0" cy="415.8" r="2.8"/><circle cx="1528.5" cy="415.2" r="2.8"/><circle cx="1502.8" cy="417.2" r="2.8"/><circle cx="1460.0" cy="420.0" r="2.8"/><circle cx="1469.7" cy="422.2" r="2.8"/><circle cx="1510.3" cy="420.7" r="2.8"/><circle cx="1492.5" cy="422.8" r="2.8"/><circle cx="1489.5" cy="424.8" r="2.8"/><circle cx="1505.3" cy="424.3" r="2.8"/><circle cx="1517.8" cy="424.0" r="2.8"/><circle cx="1540.7" cy="426.8" r="2.8"/><circle cx="1500.0" cy="427.2" r="2.8"/><circle cx="1494.0" cy="428.5" r="2.8"/><circle cx="1477.3" cy="428.8" r="2.8"/><circle cx="1457.7" cy="429.0" r="2.8"/><circle cx="1583.7" cy="427.7" r="2.8"/><circle cx="1530.5" cy="429.8" r="2.8"/><circle cx="1519.5" cy="430.0" r="2.8"/><circle cx="1502.5" cy="431.0" r="2.8"/><circle cx="1490.0" cy="432.0" r="2.8"/><circle cx="1461.8" cy="435.0" r="2.8"/><circle cx="1501.0" cy="434.0" r="2.8"/><circle cx="1496.0" cy="436.2" r="2.8"/><circle cx="1510.5" cy="435.2" r="2.8"/><circle cx="1560.5" cy="438.2" r="2.8"/><circle cx="1570.0" cy="438.5" r="2.8"/><circle cx="1587.5" cy="437.0" r="2.8"/><circle cx="1449.0" cy="439.5" r="2.8"/><circle cx="1469.5" cy="439.3" r="2.8"/><circle cx="1477.5" cy="438.8" r="2.8"/><circle cx="1483.0" cy="440.0" r="2.8"/><circle cx="1489.5" cy="439.0" r="2.8"/><circle cx="1568.3" cy="442.8" r="2.8"/><circle cx="1462.2" cy="442.2" r="2.8"/><circle cx="1447.0" cy="444.0" r="2.8"/><circle cx="1472.0" cy="443.5" r="2.8"/><circle cx="1473.5" cy="446.5" r="2.8"/><circle cx="1502.0" cy="445.5" r="2.8"/><circle cx="1443.0" cy="448.3" r="2.8"/><circle cx="1450.0" cy="448.5" r="2.8"/><circle cx="1455.0" cy="449.5" r="2.8"/><circle cx="1467.8" cy="447.2" r="2.8"/><circle cx="1465.0" cy="449.5" r="2.8"/><circle cx="1495.3" cy="449.0" r="2.8"/><circle cx="1482.5" cy="452.0" r="2.8"/><circle cx="1487.8" cy="453.5" r="2.8"/><circle cx="1470.3" cy="453.5" r="2.8"/><circle cx="1467.8" cy="454.3" r="2.8"/><circle cx="1477.5" cy="454.7" r="2.8"/><circle cx="1520.5" cy="452.8" r="2.8"/><circle cx="1527.0" cy="452.5" r="2.8"/><circle cx="1516.8" cy="457.0" r="2.8"/><circle cx="1448.0" cy="455.2" r="2.8"/><circle cx="1445.0" cy="457.0" r="2.8"/><circle cx="1454.2" cy="455.8" r="2.8"/><circle cx="1472.5" cy="458.0" r="2.8"/><circle cx="1462.5" cy="458.8" r="2.8"/><circle cx="1460.0" cy="460.0" r="2.8"/><circle cx="1442.0" cy="462.0" r="2.8"/><circle cx="1446.8" cy="461.8" r="2.8"/><circle cx="1468.8" cy="463.0" r="2.8"/><circle cx="1493.3" cy="462.5" r="2.8"/><circle cx="1503.8" cy="461.2" r="2.8"/><circle cx="1506.3" cy="464.5" r="2.8"/><circle cx="1542.2" cy="461.0" r="2.8"/><circle cx="1552.0" cy="465.0" r="2.8"/><circle cx="1564.5" cy="463.7" r="2.8"/><circle cx="1521.2" cy="466.0" r="2.8"/><circle cx="1512.5" cy="466.2" r="2.8"/><circle cx="1515.0" cy="469.8" r="2.8"/><circle cx="1514.5" cy="473.5" r="2.8"/><circle cx="1497.7" cy="467.7" r="2.8"/><circle cx="1482.5" cy="468.8" r="2.8"/><circle cx="1446.5" cy="466.8" r="2.8"/><circle cx="1456.5" cy="469.2" r="2.8"/><circle cx="1445.5" cy="472.0" r="2.8"/><circle cx="1444.0" cy="475.0" r="2.8"/><circle cx="1447.0" cy="479.0" r="2.8"/><circle cx="1450.5" cy="479.3" r="2.8"/><circle cx="1458.5" cy="477.3" r="2.8"/><circle cx="1540.2" cy="476.2" r="2.8"/><circle cx="1527.7" cy="478.8" r="2.8"/><circle cx="1519.0" cy="481.0" r="2.8"/><circle cx="1523.3" cy="483.0" r="2.8"/><circle cx="1483.7" cy="481.7" r="2.8"/><circle cx="1612.5" cy="472.5" r="2.8"/><circle cx="1607.3" cy="477.3" r="2.8"/><circle cx="1613.0" cy="477.3" r="2.8"/><circle cx="1558.7" cy="486.7" r="2.8"/><circle cx="1538.0" cy="488.5" r="2.8"/><circle cx="1452.0" cy="492.5" r="2.8"/><circle cx="1462.7" cy="496.8" r="2.8"/><circle cx="1541.2" cy="496.3" r="2.8"/><circle cx="1489.8" cy="501.0" r="2.8"/><circle cx="1606.3" cy="497.2" r="2.8"/><circle cx="1572.0" cy="504.5" r="2.8"/><circle cx="1589.0" cy="506.5" r="2.8"/><circle cx="1662.5" cy="393.5" r="2.8"/><circle cx="1638.5" cy="397.8" r="2.8"/><circle cx="1641.0" cy="398.0" r="2.8"/><circle cx="1645.5" cy="400.3" r="2.8"/><circle cx="1718.5" cy="413.8" r="2.8"/><circle cx="1636.0" cy="426.8" r="2.8"/><circle cx="1659.5" cy="504.3" r="2.8"/><circle cx="1265.8" cy="588.0" r="2.8"/></g>
<rect x="1382.5" y="608.2" width="5" height="3.4" fill="#444cae"/>
<polygon points="1524.00,425.30 1527.73,436.77 1539.79,436.77 1530.03,443.86 1533.76,455.33 1524.00,448.24 1514.24,455.33 1517.97,443.86 1508.21,436.77 1520.27,436.77" fill="#dc2b1c" stroke="#000" stroke-width="1.1" stroke-linejoin="miter"/>
</g>
<g id="panel-c">
<defs><linearGradient id="cptg" x1="0" x2="1" y1="0" y2="0">
<stop offset="0.000" stop-color="rgb(224,44,26)"/>
<stop offset="0.100" stop-color="rgb(240,130,0)"/>
<stop offset="0.190" stop-color="rgb(248,225,0)"/>
<stop offset="0.210" stop-color="rgb(240,232,0)"/>
<stop offset="0.300" stop-color="rgb(180,208,0)"/>
<stop offset="0.380" stop-color="rgb(124,194,0)"/>
<stop offset="0.480" stop-color="rgb(124,196,8)"/>
<stop offset="0.530" stop-color="rgb(150,222,130)"/>
<stop offset="0.570" stop-color="rgb(150,226,210)"/>
<stop offset="0.620" stop-color="rgb(128,212,232)"/>
<stop offset="0.700" stop-color="rgb(80,130,195)"/>
<stop offset="0.800" stop-color="rgb(66,74,170)"/>
<stop offset="0.860" stop-color="rgb(100,72,178)"/>
<stop offset="0.930" stop-color="rgb(150,66,186)"/>
<stop offset="1.000" stop-color="rgb(196,76,178)"/>
</linearGradient></defs>
<rect x="224.3" y="915.9" width="233.30" height="17.10" fill="url(#cptg)" stroke="#000" stroke-width="5.6"/>
<path d="M224.30 935.60L224.30 944.40M247.63 935.60L247.63 939.20M270.96 935.60L270.96 944.40M294.29 935.60L294.29 939.20M317.62 935.60L317.62 944.40M340.95 935.60L340.95 939.20M364.28 935.60L364.28 944.40M387.61 935.60L387.61 939.20M410.94 935.60L410.94 944.40M434.27 935.60L434.27 939.20M457.60 935.60L457.60 944.40" stroke="#000" stroke-width="1.9" fill="none"/>
<text x="224.30" y="969.40" font-size="21" text-anchor="middle" fill="#000" >0</text>
<text x="270.96" y="969.40" font-size="21" text-anchor="middle" fill="#000" >2</text>
<text x="317.62" y="969.40" font-size="21" text-anchor="middle" fill="#000" >4</text>
<text x="364.28" y="969.40" font-size="21" text-anchor="middle" fill="#000" >6</text>
<text x="410.94" y="969.40" font-size="21" text-anchor="middle" fill="#000" >8</text>
<text x="457.60" y="969.40" font-size="21" text-anchor="middle" fill="#000" >10</text>
<text x="341.50" y="1003.00" font-size="24.8" text-anchor="middle" fill="#000" >Hypocentral depth (km)</text>
<text x="14.60" y="952.60" font-size="44" text-anchor="start" fill="#000" >a<tspan dx="1.6">)</tspan></text>
<rect x="97.8" y="1044.0" width="527.20" height="263.00" fill="#fff" stroke="#141414" stroke-width="5.5"/>
<path d="M97.80 1041.40L97.80 1031.00M97.80 1309.60L97.80 1319.60M141.73 1041.40L141.73 1037.00M141.73 1309.60L141.73 1313.60M185.67 1041.40L185.67 1031.00M185.67 1309.60L185.67 1319.60M229.60 1041.40L229.60 1037.00M229.60 1309.60L229.60 1313.60M273.53 1041.40L273.53 1031.00M273.53 1309.60L273.53 1319.60M317.47 1041.40L317.47 1037.00M317.47 1309.60L317.47 1313.60M361.40 1041.40L361.40 1031.00M361.40 1309.60L361.40 1319.60M405.33 1041.40L405.33 1037.00M405.33 1309.60L405.33 1313.60M449.27 1041.40L449.27 1031.00M449.27 1309.60L449.27 1319.60M493.20 1041.40L493.20 1037.00M493.20 1309.60L493.20 1313.60M537.13 1041.40L537.13 1031.00M537.13 1309.60L537.13 1319.60M581.07 1041.40L581.07 1037.00M581.07 1309.60L581.07 1313.60M625.00 1041.40L625.00 1031.00M625.00 1309.60L625.00 1319.60M95.20 1044.00L85.00 1044.00M95.20 1060.44L91.00 1060.44M95.20 1076.88L85.00 1076.88M95.20 1093.31L91.00 1093.31M95.20 1109.75L85.00 1109.75M95.20 1126.19L91.00 1126.19M95.20 1142.62L85.00 1142.62M95.20 1159.06L91.00 1159.06M95.20 1175.50L85.00 1175.50M95.20 1191.94L91.00 1191.94M95.20 1208.38L85.00 1208.38M95.20 1224.81L91.00 1224.81M95.20 1241.25L85.00 1241.25M95.20 1257.69L91.00 1257.69M95.20 1274.12L85.00 1274.12M95.20 1290.56L91.00 1290.56M95.20 1307.00L85.00 1307.00M627.60 1307.00L637.40 1307.00M627.60 1289.47L632.00 1289.47M627.60 1271.93L632.00 1271.93M627.60 1254.40L632.00 1254.40M627.60 1236.87L632.00 1236.87M627.60 1219.33L637.40 1219.33M627.60 1201.80L632.00 1201.80M627.60 1184.27L632.00 1184.27M627.60 1166.73L632.00 1166.73M627.60 1149.20L632.00 1149.20M627.60 1131.67L637.40 1131.67M627.60 1114.13L632.00 1114.13M627.60 1096.60L632.00 1096.60M627.60 1079.07L632.00 1079.07M627.60 1061.53L632.00 1061.53M627.60 1044.00L637.40 1044.00" stroke="#141414" stroke-width="2.2" fill="none"/>
<text x="97.50" y="1349.30" font-size="26.5" text-anchor="middle" fill="#141414" >0</text>
<text x="185.37" y="1349.30" font-size="26.5" text-anchor="middle" fill="#141414" >10</text>
<text x="273.23" y="1349.30" font-size="26.5" text-anchor="middle" fill="#141414" >20</text>
<text x="361.10" y="1349.30" font-size="26.5" text-anchor="middle" fill="#141414" >30</text>
<text x="448.97" y="1349.30" font-size="26.5" text-anchor="middle" fill="#141414" >40</text>
<text x="536.83" y="1349.30" font-size="26.5" text-anchor="middle" fill="#141414" >50</text>
<text x="624.70" y="1349.30" font-size="26.5" text-anchor="middle" fill="#141414" >60</text>
<text x="74.60" y="1313.80" font-size="26.2" text-anchor="end" fill="#141414" >5</text>
<text x="74.60" y="1284.50" font-size="26.2" text-anchor="end" fill="#141414" >6</text>
<text x="74.60" y="1255.20" font-size="26.2" text-anchor="end" fill="#141414" >7</text>
<text x="74.60" y="1225.90" font-size="26.2" text-anchor="end" fill="#141414" >8</text>
<text x="74.60" y="1196.60" font-size="26.2" text-anchor="end" fill="#141414" >9</text>
<text x="74.60" y="1167.30" font-size="26.2" text-anchor="end" fill="#141414" >10</text>
<text x="74.60" y="1138.00" font-size="26.2" text-anchor="end" fill="#141414" >11</text>
<text x="74.60" y="1108.70" font-size="26.2" text-anchor="end" fill="#141414" >12</text>
<text x="74.60" y="1079.40" font-size="26.2" text-anchor="end" fill="#141414" >13</text>
<text x="74.60" y="1050.10" font-size="26.2" text-anchor="end" fill="#141414" >14</text>
<text x="686.60" y="1316.40" font-size="26.4" text-anchor="end" fill="#141414" >0</text>
<text x="686.60" y="1228.73" font-size="26.4" text-anchor="end" fill="#141414" >50</text>
<text x="686.60" y="1141.07" font-size="26.4" text-anchor="end" fill="#141414" >100</text>
<text x="686.60" y="1053.40" font-size="26.4" text-anchor="end" fill="#141414" >150</text>
<text x="361.30" y="1388.00" font-size="28.5" text-anchor="middle" fill="#141414" >days</text>
<text x="46.80" y="1377.50" font-size="44" text-anchor="start" fill="#141414" >c<tspan dx="1.6">)</tspan></text>
<text x="24.60" y="1173.00" font-size="28.1" text-anchor="middle" fill="#3b3f9e" transform="rotate(-90 24.60 1173.00)" >log10(Average Daily En.[J])</text>
<text x="714.50" y="1183.00" font-size="28" text-anchor="middle" fill="#d9281c" transform="rotate(-90 714.50 1183.00)" >Rate (N. eve/day)</text>
<polyline points="106.99,1111.00 115.77,1172.00 124.56,1239.00 133.35,1246.00 142.13,1253.00 150.92,1270.00 159.71,1257.00 168.49,1284.40 177.28,1284.40 186.07,1284.40 194.85,1286.00 203.64,1247.00 212.43,1273.00 221.21,1298.40 230.00,1293.60 238.79,1271.00 247.57,1292.40 256.36,1296.40 265.15,1295.00 273.93,1284.40 282.72,1286.00 291.51,1300.00 300.29,1286.00 309.08,1273.60 317.87,1303.60 326.65,1302.00 335.44,1295.00 344.23,1298.40 353.01,1300.40 361.80,1267.60 370.59,1300.40 379.37,1302.00 388.16,1298.00 396.95,1298.00 405.73,1300.00 414.52,1302.00 423.31,1289.60 432.09,1298.40 440.88,1302.00 449.67,1300.40 458.45,1298.40 467.24,1301.60 476.03,1303.60 484.81,1300.00 493.60,1303.60 502.39,1300.40 511.17,1295.00 519.96,1303.60 528.75,1300.00 537.53,1298.40 546.32,1300.00 555.11,1296.60 563.89,1287.60 572.68,1298.00 581.47,1296.40 590.25,1285.60 599.04,1275.00 607.83,1296.40" fill="none" stroke="#2f52a8" stroke-width="3.9" stroke-linejoin="miter" stroke-miterlimit="3"/>
<polyline points="106.99,1081.60 115.77,1165.00 124.56,1180.00 133.35,1212.40 142.13,1224.40 150.92,1197.60 159.71,1218.00 168.49,1215.00 177.28,1245.60 186.07,1232.00 194.85,1195.40 203.64,1159.00 212.43,1242.00 221.21,1267.00 230.00,1193.00 238.79,1205.00 247.57,1263.00 256.36,1237.00 265.15,1264.60 273.93,1248.00 282.72,1241.40 291.51,1263.60 300.29,1201.00 309.08,1242.00 317.87,1283.60 326.65,1239.60 335.44,1262.00 344.23,1250.00 353.01,1228.00 361.80,1173.00 370.59,1254.50 379.37,1238.00 388.16,1246.60 396.95,1275.60 405.73,1204.60 414.52,1227.00 423.31,1235.00 432.09,1242.60 440.88,1261.60 449.67,1249.00 458.45,1211.00 467.24,1281.00 476.03,1268.00 484.81,1249.60 493.60,1295.60 502.39,1270.00 511.17,1245.60 519.96,1250.40 528.75,1277.00 537.53,1262.40 546.32,1267.40 555.11,1255.00 563.89,1222.40 572.68,1286.00 581.47,1269.00 590.25,1232.00 599.04,1195.00 607.83,1253.00" fill="none" stroke="#e0301e" stroke-width="1.8" stroke-linejoin="miter" stroke-miterlimit="3"/>
</g>
<g id="panel-d">
<rect x="881.7" y="807.4" width="494.00" height="494.00" fill="none" stroke="#1a1a1a" stroke-width="1.8"/>
<path d="M881.70 807.40L881.70 792.00M881.70 1301.40L881.70 1316.70M895.81 807.40L895.81 799.40M895.81 1301.40L895.81 1309.70M909.93 807.40L909.93 799.40M909.93 1301.40L909.93 1309.70M924.04 807.40L924.04 799.40M924.04 1301.40L924.04 1309.70M938.16 807.40L938.16 799.40M938.16 1301.40L938.16 1309.70M952.27 807.40L952.27 799.40M952.27 1301.40L952.27 1309.70M966.39 807.40L966.39 799.40M966.39 1301.40L966.39 1309.70M980.50 807.40L980.50 799.40M980.50 1301.40L980.50 1309.70M994.61 807.40L994.61 799.40M994.61 1301.40L994.61 1309.70M1008.73 807.40L1008.73 799.40M1008.73 1301.40L1008.73 1309.70M1022.84 807.40L1022.84 792.00M1022.84 1301.40L1022.84 1316.70M1036.96 807.40L1036.96 799.40M1036.96 1301.40L1036.96 1309.70M1051.07 807.40L1051.07 799.40M1051.07 1301.40L1051.07 1309.70M1065.19 807.40L1065.19 799.40M1065.19 1301.40L1065.19 1309.70M1079.30 807.40L1079.30 799.40M1079.30 1301.40L1079.30 1309.70M1093.41 807.40L1093.41 799.40M1093.41 1301.40L1093.41 1309.70M1107.53 807.40L1107.53 799.40M1107.53 1301.40L1107.53 1309.70M1121.64 807.40L1121.64 799.40M1121.64 1301.40L1121.64 1309.70M1135.76 807.40L1135.76 799.40M1135.76 1301.40L1135.76 1309.70M1149.87 807.40L1149.87 799.40M1149.87 1301.40L1149.87 1309.70M1163.99 807.40L1163.99 792.00M1163.99 1301.40L1163.99 1316.70M1178.10 807.40L1178.10 799.40M1178.10 1301.40L1178.10 1309.70M1192.21 807.40L1192.21 799.40M1192.21 1301.40L1192.21 1309.70M1206.33 807.40L1206.33 799.40M1206.33 1301.40L1206.33 1309.70M1220.44 807.40L1220.44 799.40M1220.44 1301.40L1220.44 1309.70M1234.56 807.40L1234.56 799.40M1234.56 1301.40L1234.56 1309.70M1248.67 807.40L1248.67 799.40M1248.67 1301.40L1248.67 1309.70M1262.79 807.40L1262.79 799.40M1262.79 1301.40L1262.79 1309.70M1276.90 807.40L1276.90 799.40M1276.90 1301.40L1276.90 1309.70M1291.01 807.40L1291.01 799.40M1291.01 1301.40L1291.01 1309.70M1305.13 807.40L1305.13 792.00M1305.13 1301.40L1305.13 1316.70M1319.24 807.40L1319.24 799.40M1319.24 1301.40L1319.24 1309.70M1333.36 807.40L1333.36 799.40M1333.36 1301.40L1333.36 1309.70M1347.47 807.40L1347.47 799.40M1347.47 1301.40L1347.47 1309.70M1361.59 807.40L1361.59 799.40M1361.59 1301.40L1361.59 1309.70M1375.70 807.40L1375.70 799.40M1375.70 1301.40L1375.70 1309.70M881.70 1301.40L866.00 1301.40M1375.70 1301.40L1391.00 1301.40M881.70 1273.17L873.00 1273.17M1375.70 1273.17L1384.00 1273.17M881.70 1244.94L873.00 1244.94M1375.70 1244.94L1384.00 1244.94M881.70 1216.71L873.00 1216.71M1375.70 1216.71L1384.00 1216.71M881.70 1188.49L873.00 1188.49M1375.70 1188.49L1384.00 1188.49M881.70 1160.26L866.00 1160.26M1375.70 1160.26L1391.00 1160.26M881.70 1132.03L873.00 1132.03M1375.70 1132.03L1384.00 1132.03M881.70 1103.80L873.00 1103.80M1375.70 1103.80L1384.00 1103.80M881.70 1075.57L873.00 1075.57M1375.70 1075.57L1384.00 1075.57M881.70 1047.34L873.00 1047.34M1375.70 1047.34L1384.00 1047.34M881.70 1019.11L866.00 1019.11M1375.70 1019.11L1391.00 1019.11M881.70 990.89L873.00 990.89M1375.70 990.89L1384.00 990.89M881.70 962.66L873.00 962.66M1375.70 962.66L1384.00 962.66M881.70 934.43L873.00 934.43M1375.70 934.43L1384.00 934.43M881.70 906.20L873.00 906.20M1375.70 906.20L1384.00 906.20M881.70 877.97L866.00 877.97M1375.70 877.97L1391.00 877.97M881.70 849.74L873.00 849.74M1375.70 849.74L1384.00 849.74M881.70 821.51L873.00 821.51M1375.70 821.51L1384.00 821.51" stroke="#1a1a1a" stroke-width="1.7" fill="none"/>
<text x="879.10" y="1350.70" font-size="28.6" text-anchor="middle" fill="#1a1a1a" >−1</text>
<text x="851.80" y="1311.70" font-size="28.4" text-anchor="end" fill="#1a1a1a" >−1</text>
<text x="1022.84" y="1350.70" font-size="28.6" text-anchor="middle" fill="#1a1a1a" >0</text>
<text x="851.80" y="1170.56" font-size="28.4" text-anchor="end" fill="#1a1a1a" >0</text>
<text x="1163.99" y="1350.70" font-size="28.6" text-anchor="middle" fill="#1a1a1a" >1</text>
<text x="851.80" y="1029.41" font-size="28.4" text-anchor="end" fill="#1a1a1a" >1</text>
<text x="1305.13" y="1350.70" font-size="28.6" text-anchor="middle" fill="#1a1a1a" >2</text>
<text x="851.80" y="888.27" font-size="28.4" text-anchor="end" fill="#1a1a1a" >2</text>
<text x="1123.00" y="772.00" font-size="34.95" text-anchor="middle" fill="#1a1a1a" >SLOPE1= -0.5 SLOPE2= -0.95</text>
<text x="1128.30" y="1398.50" font-size="34.4" text-anchor="middle" fill="#1a1a1a" >Log 10 (days)</text>
<text x="821.30" y="1058.20" font-size="32.6" text-anchor="middle" fill="#1a1a1a" transform="rotate(-90 821.30 1058.20)" >Log 10 (number of events/day)</text>
<text x="778.40" y="1374.00" font-size="44" text-anchor="start" fill="#1a1a1a" >d<tspan dx="1.6">)</tspan></text>
<line x1="955.6" y1="904" x2="955.6" y2="933" stroke="#e0301e" stroke-width="4"/>
<line x1="1012.6" y1="961" x2="1012.6" y2="996" stroke="#e0301e" stroke-width="4"/>
<line x1="1061.6" y1="952.4" x2="1061.6" y2="973" stroke="#e0301e" stroke-width="4"/>
<line x1="1107.6" y1="998" x2="1107.6" y2="1019" stroke="#e0301e" stroke-width="4"/>
<line x1="1153" y1="1025" x2="1153" y2="1042" stroke="#e0301e" stroke-width="4"/>
<line x1="1196.6" y1="1083" x2="1196.6" y2="1103" stroke="#e0301e" stroke-width="4"/>
<line x1="1241" y1="1110" x2="1241" y2="1125" stroke="#e0301e" stroke-width="4"/>
<line x1="1284.4" y1="1172" x2="1284.4" y2="1192.6" stroke="#e0301e" stroke-width="4"/>
<circle cx="955.6" cy="917.4" r="3.9" fill="none" stroke="#000" stroke-width="1"/>
<circle cx="1012.6" cy="976.2" r="3.9" fill="none" stroke="#000" stroke-width="1"/>
<circle cx="1061.6" cy="962" r="3.9" fill="none" stroke="#000" stroke-width="1"/>
<circle cx="1107.6" cy="1007.6" r="3.9" fill="none" stroke="#000" stroke-width="1"/>
<circle cx="1153" cy="1033.4" r="3.9" fill="none" stroke="#000" stroke-width="1"/>
<circle cx="1196.6" cy="1092.4" r="3.9" fill="none" stroke="#000" stroke-width="1"/>
<circle cx="1241" cy="1118.4" r="3.9" fill="none" stroke="#000" stroke-width="1"/>
<circle cx="1284.4" cy="1181.4" r="3.9" fill="none" stroke="#000" stroke-width="1"/>
<polyline points="955.6,927.5 1107.6,1002.5 1284.4,1168.5" fill="none" stroke="#e0301e" stroke-width="8.5" stroke-linejoin="miter"/>
</g>
<g id="panel-e">
<clipPath id="clipe"><rect x="1496.0" y="805.4" width="411.40" height="493.00"/></clipPath>
<path d="M1552.11 1218.20L1563.31 1218.20L1557.71 1208.20ZM1558.97 1246.60L1570.17 1246.60L1564.57 1236.60ZM1565.82 1218.20L1577.02 1218.20L1571.42 1208.20ZM1572.68 1168.20L1583.88 1168.20L1578.28 1158.20ZM1579.54 1109.20L1590.74 1109.20L1585.14 1099.20ZM1586.39 1071.20L1597.59 1071.20L1591.99 1061.20ZM1593.25 1055.20L1604.45 1055.20L1598.85 1045.20ZM1600.11 1001.60L1611.31 1001.60L1605.71 991.60ZM1606.96 980.60L1618.16 980.60L1612.56 970.60ZM1613.82 984.60L1625.02 984.60L1619.42 974.60ZM1620.68 989.60L1631.88 989.60L1626.28 979.60ZM1627.53 986.60L1638.73 986.60L1633.13 976.60ZM1634.39 983.60L1645.59 983.60L1639.99 973.60ZM1641.25 1002.60L1652.45 1002.60L1646.85 992.60ZM1648.10 1034.00L1659.30 1034.00L1653.70 1024.00ZM1654.96 1017.00L1666.16 1017.00L1660.56 1007.00ZM1661.82 1048.60L1673.02 1048.60L1667.42 1038.60ZM1668.67 1068.60L1679.87 1068.60L1674.27 1058.60ZM1675.53 1099.60L1686.73 1099.60L1681.13 1089.60ZM1682.39 1114.20L1693.59 1114.20L1687.99 1104.20ZM1689.24 1140.20L1700.44 1140.20L1694.84 1130.20ZM1696.10 1148.60L1707.30 1148.60L1701.70 1138.60ZM1702.96 1168.60L1714.16 1168.60L1708.56 1158.60ZM1709.81 1140.20L1721.01 1140.20L1715.41 1130.20ZM1716.67 1148.60L1727.87 1148.60L1722.27 1138.60ZM1723.53 1181.60L1734.73 1181.60L1729.13 1171.60ZM1730.38 1197.60L1741.58 1197.60L1735.98 1187.60ZM1737.24 1217.20L1748.44 1217.20L1742.84 1207.20ZM1744.10 1246.00L1755.30 1246.00L1749.70 1236.00ZM1750.95 1197.60L1762.15 1197.60L1756.55 1187.60ZM1757.81 1295.00L1769.01 1295.00L1763.41 1285.00ZM1764.67 1246.20L1775.87 1246.20L1770.27 1236.20ZM1778.38 1295.00L1789.58 1295.00L1783.98 1285.00ZM1846.95 1295.00L1858.15 1295.00L1852.55 1285.00Z" fill="none" stroke="#111" stroke-width="1.7" stroke-linejoin="miter"/>
<g clip-path="url(#clipe)">
<rect x="1535.70" y="807.40" width="16.6" height="16.6" fill="#e23723" stroke="#1a0a08" stroke-width="0.9"/>
<rect x="1542.55" y="807.40" width="16.6" height="16.6" fill="#e23723" stroke="#1a0a08" stroke-width="0.9"/>
<rect x="1549.41" y="807.40" width="16.6" height="16.6" fill="#e23723" stroke="#1a0a08" stroke-width="0.9"/>
<rect x="1556.27" y="807.40" width="16.6" height="16.6" fill="#e23723" stroke="#1a0a08" stroke-width="0.9"/>
<rect x="1563.12" y="807.40" width="16.6" height="16.6" fill="#e23723" stroke="#1a0a08" stroke-width="0.9"/>
<rect x="1569.98" y="807.40" width="16.6" height="16.6" fill="#e23723" stroke="#1a0a08" stroke-width="0.9"/>
<rect x="1576.84" y="807.60" width="16.6" height="16.6" fill="#e23723" stroke="#1a0a08" stroke-width="0.9"/>
<rect x="1583.69" y="809.20" width="16.6" height="16.6" fill="#e23723" stroke="#1a0a08" stroke-width="0.9"/>
<rect x="1590.55" y="811.20" width="16.6" height="16.6" fill="#e23723" stroke="#1a0a08" stroke-width="0.9"/>
<rect x="1597.41" y="813.80" width="16.6" height="16.6" fill="#e23723" stroke="#1a0a08" stroke-width="0.9"/>
<rect x="1604.26" y="819.60" width="16.6" height="16.6" fill="#e23723" stroke="#1a0a08" stroke-width="0.9"/>
<rect x="1611.12" y="829.20" width="16.6" height="16.6" fill="#e23723" stroke="#1a0a08" stroke-width="0.9"/>
<rect x="1617.98" y="838.20" width="16.6" height="16.6" fill="#e23723" stroke="#1a0a08" stroke-width="0.9"/>
<rect x="1624.83" y="849.20" width="16.6" height="16.6" fill="#e23723" stroke="#1a0a08" stroke-width="0.9"/>
<rect x="1631.69" y="862.60" width="16.6" height="16.6" fill="#e23723" stroke="#1a0a08" stroke-width="0.9"/>
<rect x="1638.55" y="879.60" width="16.6" height="16.6" fill="#e23723" stroke="#1a0a08" stroke-width="0.9"/>
<rect x="1645.40" y="895.80" width="16.6" height="16.6" fill="#e23723" stroke="#1a0a08" stroke-width="0.9"/>
<rect x="1652.26" y="908.60" width="16.6" height="16.6" fill="#e23723" stroke="#1a0a08" stroke-width="0.9"/>
<rect x="1659.12" y="929.60" width="16.6" height="16.6" fill="#e23723" stroke="#1a0a08" stroke-width="0.9"/>
<rect x="1665.97" y="946.80" width="16.6" height="16.6" fill="#e23723" stroke="#1a0a08" stroke-width="0.9"/>
<rect x="1672.83" y="963.80" width="16.6" height="16.6" fill="#e23723" stroke="#1a0a08" stroke-width="0.9"/>
<rect x="1679.69" y="976.80" width="16.6" height="16.6" fill="#e23723" stroke="#1a0a08" stroke-width="0.9"/>
<rect x="1686.54" y="989.50" width="16.6" height="16.6" fill="#e23723" stroke="#1a0a08" stroke-width="0.9"/>
<rect x="1693.40" y="1000.40" width="16.6" height="16.6" fill="#e23723" stroke="#1a0a08" stroke-width="0.9"/>
<rect x="1700.26" y="1011.60" width="16.6" height="16.6" fill="#e23723" stroke="#1a0a08" stroke-width="0.9"/>
<rect x="1707.11" y="1021.20" width="16.6" height="16.6" fill="#e23723" stroke="#1a0a08" stroke-width="0.9"/>
<rect x="1713.97" y="1038.70" width="16.6" height="16.6" fill="#e23723" stroke="#1a0a08" stroke-width="0.9"/>
<rect x="1720.83" y="1058.60" width="16.6" height="16.6" fill="#e23723" stroke="#1a0a08" stroke-width="0.9"/>
<rect x="1727.68" y="1075.50" width="16.6" height="16.6" fill="#e23723" stroke="#1a0a08" stroke-width="0.9"/>
<rect x="1734.54" y="1091.70" width="16.6" height="16.6" fill="#e23723" stroke="#1a0a08" stroke-width="0.9"/>
<rect x="1741.40" y="1107.70" width="16.6" height="16.6" fill="#e23723" stroke="#1a0a08" stroke-width="0.9"/>
<rect x="1748.25" y="1120.50" width="16.6" height="16.6" fill="#e23723" stroke="#1a0a08" stroke-width="0.9"/>
<rect x="1755.11" y="1156.70" width="16.6" height="16.6" fill="#e23723" stroke="#1a0a08" stroke-width="0.9"/>
<rect x="1761.97" y="1169.00" width="16.6" height="16.6" fill="#e23723" stroke="#1a0a08" stroke-width="0.9"/>
<rect x="1768.82" y="1205.10" width="16.6" height="16.6" fill="#e23723" stroke="#1a0a08" stroke-width="0.9"/>
<rect x="1775.68" y="1205.10" width="16.6" height="16.6" fill="#e23723" stroke="#1a0a08" stroke-width="0.9"/>
<rect x="1782.54" y="1233.90" width="16.6" height="16.6" fill="#e23723" stroke="#1a0a08" stroke-width="0.9"/>
<rect x="1789.39" y="1233.90" width="16.6" height="16.6" fill="#e23723" stroke="#1a0a08" stroke-width="0.9"/>
<rect x="1796.25" y="1233.90" width="16.6" height="16.6" fill="#e23723" stroke="#1a0a08" stroke-width="0.9"/>
<rect x="1803.11" y="1233.90" width="16.6" height="16.6" fill="#e23723" stroke="#1a0a08" stroke-width="0.9"/>
<rect x="1809.96" y="1233.90" width="16.6" height="16.6" fill="#e23723" stroke="#1a0a08" stroke-width="0.9"/>
<rect x="1816.82" y="1233.90" width="16.6" height="16.6" fill="#e23723" stroke="#1a0a08" stroke-width="0.9"/>
<rect x="1823.68" y="1233.90" width="16.6" height="16.6" fill="#e23723" stroke="#1a0a08" stroke-width="0.9"/>
<rect x="1830.53" y="1233.90" width="16.6" height="16.6" fill="#e23723" stroke="#1a0a08" stroke-width="0.9"/>
<rect x="1837.39" y="1233.90" width="16.6" height="16.6" fill="#e23723" stroke="#1a0a08" stroke-width="0.9"/>
<rect x="1844.25" y="1233.90" width="16.6" height="16.6" fill="#e23723" stroke="#1a0a08" stroke-width="0.9"/>
<rect x="1851.10" y="1282.50" width="16.6" height="16.6" fill="#e23723" stroke="#1a0a08" stroke-width="0.9"/>
<rect x="1857.96" y="1282.50" width="16.6" height="16.6" fill="#e23723" stroke="#1a0a08" stroke-width="0.9"/>
<rect x="1864.82" y="1282.50" width="16.6" height="16.6" fill="#e23723" stroke="#1a0a08" stroke-width="0.9"/>
<polyline points="1544.00,815.70 1550.85,815.70 1557.71,815.70 1564.57,815.70 1571.42,815.70 1578.28,815.70 1585.14,815.90 1591.99,817.50 1598.85,819.50 1605.71,822.10 1612.56,827.90 1619.42,837.50 1626.28,846.50 1633.13,857.50 1639.99,870.90 1646.85,887.90 1653.70,904.10 1660.56,916.90 1667.42,937.90 1674.27,955.10 1681.13,972.10 1687.99,985.10 1694.84,997.80 1701.70,1008.70 1708.56,1019.90 1715.41,1029.50 1722.27,1047.00 1729.13,1066.90 1735.98,1083.80 1742.84,1100.00 1749.70,1116.00 1756.55,1128.80 1763.41,1165.00 1770.27,1177.30 1777.12,1213.40 1783.98,1213.40 1790.84,1242.20 1797.69,1242.20 1804.55,1242.20 1811.41,1242.20 1818.26,1242.20 1825.12,1242.20 1831.98,1242.20 1838.83,1242.20 1845.69,1242.20 1852.55,1242.20 1859.40,1290.80 1866.26,1290.80 1873.12,1290.80" fill="none" stroke="#1a0a08" stroke-width="0.6"/>
<line x1="1633.13" y1="805.4" x2="1633.13" y2="1298.4" stroke="#2f50a8" stroke-width="7"/>
<line x1="1633.13" y1="858" x2="1833.9" y2="1306" stroke="#6dc005" stroke-width="8.1"/>
</g>
<rect x="1496.0" y="805.4" width="411.40" height="493.00" fill="none" stroke="#1a1a1a" stroke-width="1.8"/>
<path d="M1496.00 805.40L1496.00 789.60M1496.00 1298.40L1496.00 1314.00M1509.71 805.40L1509.71 797.00M1509.71 1298.40L1509.71 1307.00M1523.43 805.40L1523.43 797.00M1523.43 1298.40L1523.43 1307.00M1537.14 805.40L1537.14 797.00M1537.14 1298.40L1537.14 1307.00M1550.85 805.40L1550.85 797.00M1550.85 1298.40L1550.85 1307.00M1564.57 805.40L1564.57 789.60M1564.57 1298.40L1564.57 1314.00M1578.28 805.40L1578.28 797.00M1578.28 1298.40L1578.28 1307.00M1591.99 805.40L1591.99 797.00M1591.99 1298.40L1591.99 1307.00M1605.71 805.40L1605.71 797.00M1605.71 1298.40L1605.71 1307.00M1619.42 805.40L1619.42 797.00M1619.42 1298.40L1619.42 1307.00M1633.13 805.40L1633.13 789.60M1633.13 1298.40L1633.13 1314.00M1646.85 805.40L1646.85 797.00M1646.85 1298.40L1646.85 1307.00M1660.56 805.40L1660.56 797.00M1660.56 1298.40L1660.56 1307.00M1674.27 805.40L1674.27 797.00M1674.27 1298.40L1674.27 1307.00M1687.99 805.40L1687.99 797.00M1687.99 1298.40L1687.99 1307.00M1701.70 805.40L1701.70 789.60M1701.70 1298.40L1701.70 1314.00M1715.41 805.40L1715.41 797.00M1715.41 1298.40L1715.41 1307.00M1729.13 805.40L1729.13 797.00M1729.13 1298.40L1729.13 1307.00M1742.84 805.40L1742.84 797.00M1742.84 1298.40L1742.84 1307.00M1756.55 805.40L1756.55 797.00M1756.55 1298.40L1756.55 1307.00M1770.27 805.40L1770.27 789.60M1770.27 1298.40L1770.27 1314.00M1783.98 805.40L1783.98 797.00M1783.98 1298.40L1783.98 1307.00M1797.69 805.40L1797.69 797.00M1797.69 1298.40L1797.69 1307.00M1811.41 805.40L1811.41 797.00M1811.41 1298.40L1811.41 1307.00M1825.12 805.40L1825.12 797.00M1825.12 1298.40L1825.12 1307.00M1838.83 805.40L1838.83 789.60M1838.83 1298.40L1838.83 1314.00M1852.55 805.40L1852.55 797.00M1852.55 1298.40L1852.55 1307.00M1866.26 805.40L1866.26 797.00M1866.26 1298.40L1866.26 1307.00M1879.97 805.40L1879.97 797.00M1879.97 1298.40L1879.97 1307.00M1893.69 805.40L1893.69 797.00M1893.69 1298.40L1893.69 1307.00M1907.40 805.40L1907.40 789.60M1907.40 1298.40L1907.40 1314.00M1496.00 1290.90L1480.00 1290.90M1496.00 1209.98L1487.40 1209.98M1496.00 1129.07L1480.00 1129.07M1496.00 1048.15L1487.40 1048.15M1496.00 967.23L1480.00 967.23M1496.00 886.32L1487.40 886.32M1496.00 805.40L1480.00 805.40M1907.40 1221.20L1922.70 1221.20M1907.40 1140.33L1915.50 1140.33M1907.40 1059.45L1922.70 1059.45M1907.40 978.58L1915.50 978.58M1907.40 897.70L1922.70 897.70M1907.40 816.83L1915.50 816.83" stroke="#1a1a1a" stroke-width="1.7" fill="none"/>
<text x="1495.70" y="1348.00" font-size="28.6" text-anchor="middle" fill="#1a1a1a" >0</text>
<text x="1564.27" y="1348.00" font-size="28.6" text-anchor="middle" fill="#1a1a1a" >1</text>
<text x="1632.83" y="1348.00" font-size="28.6" text-anchor="middle" fill="#1a1a1a" >2</text>
<text x="1701.40" y="1348.00" font-size="28.6" text-anchor="middle" fill="#1a1a1a" >3</text>
<text x="1769.97" y="1348.00" font-size="28.6" text-anchor="middle" fill="#1a1a1a" >4</text>
<text x="1838.53" y="1348.00" font-size="28.6" text-anchor="middle" fill="#1a1a1a" >5</text>
<text x="1907.10" y="1348.00" font-size="28.6" text-anchor="middle" fill="#1a1a1a" >6</text>
<text x="1466.30" y="1301.00" font-size="28.4" text-anchor="end" fill="#1a1a1a" >0</text>
<text x="1466.30" y="1139.17" font-size="28.4" text-anchor="end" fill="#1a1a1a" >1</text>
<text x="1466.30" y="977.33" font-size="28.4" text-anchor="end" fill="#1a1a1a" >2</text>
<text x="1466.30" y="815.50" font-size="28.4" text-anchor="end" fill="#1a1a1a" >3</text>
<text x="1936.20" y="1231.30" font-size="28.4" text-anchor="start" fill="#1a1a1a" >1</text>
<text x="1936.20" y="1069.55" font-size="28.4" text-anchor="start" fill="#1a1a1a" >2</text>
<text x="1936.20" y="907.80" font-size="28.4" text-anchor="start" fill="#1a1a1a" >3</text>
<text x="1690.50" y="766.00" font-size="34.95" text-anchor="middle" fill="#1a1a1a" >Mc=2 - bval=0.94 +/- 0.04</text>
<text x="1701.40" y="1397.00" font-size="35" text-anchor="middle" fill="#1a1a1a" >Ml</text>
<text x="1442.60" y="1048.30" font-size="32.6" text-anchor="middle" fill="#1a1a1a" transform="rotate(-90 1442.60 1048.30)" >LOG10 Count</text>
<text x="2000.30" y="1051.00" font-size="33" text-anchor="middle" fill="#1a1a1a" transform="rotate(-90 2000.30 1051.00)" >LOG10 Events/Year</text>
<text x="1412.40" y="1349.60" font-size="44" text-anchor="start" fill="#1a1a1a" >e<tspan dx="1.6">)</tspan></text>
</g>
</svg>
</body></html>
